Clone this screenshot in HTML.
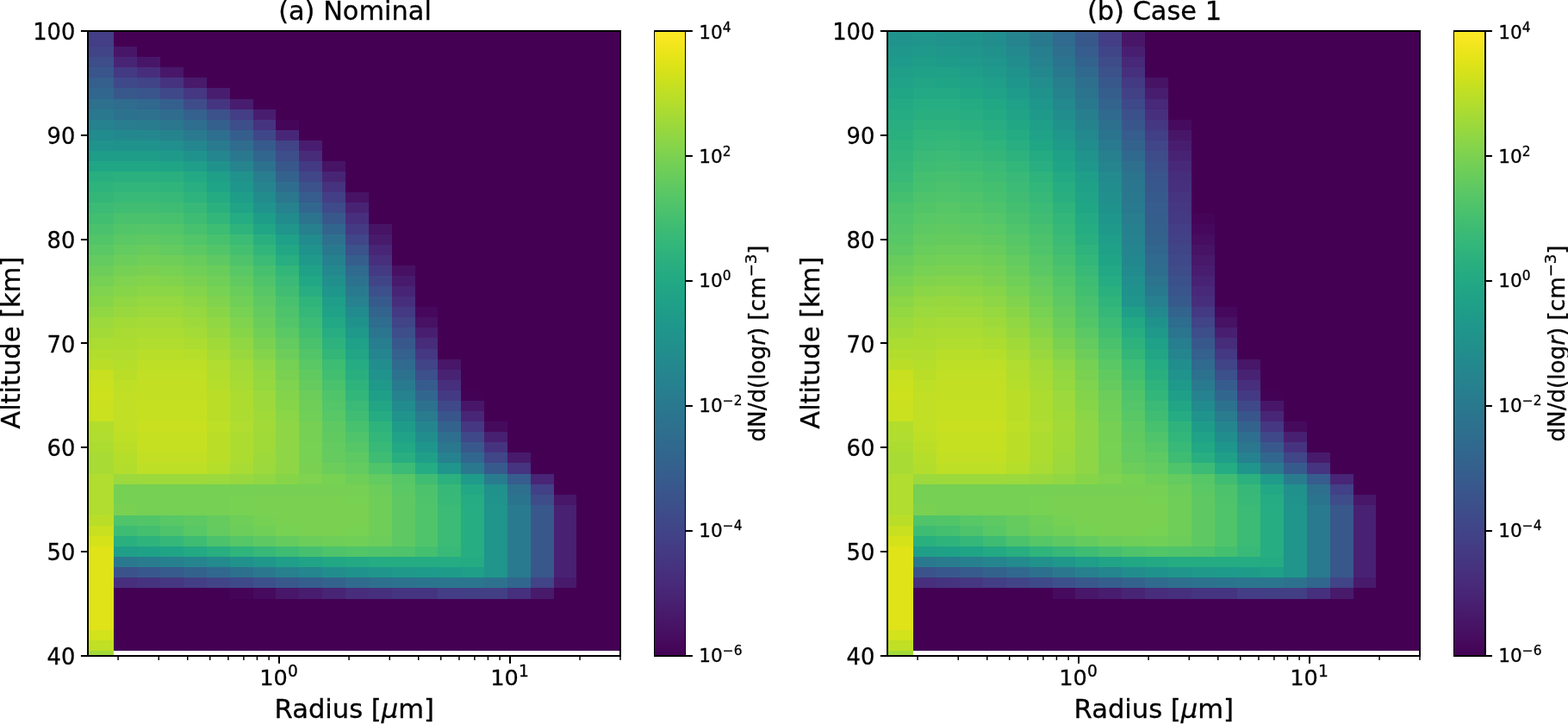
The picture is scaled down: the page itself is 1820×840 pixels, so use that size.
<!DOCTYPE html>
<html lang="en"><head><meta charset="utf-8"><title>Particle size distributions</title>
<style>html,body{margin:0;padding:0;background:#fff}body{width:1820px;height:840px;overflow:hidden}svg{display:block}text{font-family:"DejaVu Sans","Liberation Sans",sans-serif;fill:#000;stroke:#000;stroke-width:0.3px}</style></head><body>
<svg width="1820" height="840" viewBox="0 0 1820 840">
<rect width="1820" height="840" fill="#fff"/>
<g id="panel0">
<rect x="102.0" y="36.0" width="618.0" height="725.0" fill="#440154"/>
<g shape-rendering="crispEdges">
<rect x="102" y="36" width="30" height="18" fill="#433e85"/>
<rect x="102" y="54" width="30" height="12" fill="#414487"/>
<rect x="102" y="66" width="30" height="12" fill="#3d4e8a"/>
<rect x="102" y="78" width="30" height="12" fill="#39558c"/>
<rect x="102" y="90" width="30" height="12" fill="#355f8d"/>
<rect x="102" y="102" width="30" height="13" fill="#31678e"/>
<rect x="102" y="115" width="30" height="12" fill="#2d718e"/>
<rect x="102" y="127" width="30" height="12" fill="#2a788e"/>
<rect x="102" y="139" width="30" height="12" fill="#26828e"/>
<rect x="102" y="151" width="30" height="12" fill="#228b8d"/>
<rect x="102" y="163" width="30" height="12" fill="#20938c"/>
<rect x="102" y="175" width="30" height="12" fill="#1e9d89"/>
<rect x="102" y="187" width="30" height="12" fill="#21a685"/>
<rect x="102" y="199" width="30" height="12" fill="#29af7f"/>
<rect x="102" y="211" width="30" height="12" fill="#2eb37c"/>
<rect x="102" y="223" width="30" height="12" fill="#34b679"/>
<rect x="102" y="235" width="30" height="12" fill="#3bbb75"/>
<rect x="102" y="247" width="30" height="13" fill="#42be71"/>
<rect x="102" y="260" width="30" height="12" fill="#4ac16d"/>
<rect x="102" y="272" width="30" height="12" fill="#52c569"/>
<rect x="102" y="284" width="30" height="12" fill="#5ac864"/>
<rect x="102" y="296" width="30" height="12" fill="#63cb5f"/>
<rect x="102" y="308" width="30" height="12" fill="#6ccd5a"/>
<rect x="102" y="320" width="30" height="12" fill="#75d054"/>
<rect x="102" y="332" width="30" height="12" fill="#7fd34e"/>
<rect x="102" y="344" width="30" height="12" fill="#86d549"/>
<rect x="102" y="356" width="30" height="12" fill="#90d743"/>
<rect x="102" y="368" width="30" height="12" fill="#9bd93c"/>
<rect x="102" y="380" width="30" height="12" fill="#a2da37"/>
<rect x="102" y="392" width="30" height="13" fill="#aadc32"/>
<rect x="102" y="405" width="30" height="12" fill="#b2dd2d"/>
<rect x="102" y="417" width="30" height="12" fill="#bade28"/>
<rect x="102" y="429" width="30" height="12" fill="#c8e020"/>
<rect x="102" y="441" width="30" height="12" fill="#cae11f"/>
<rect x="102" y="453" width="30" height="12" fill="#cde11d"/>
<rect x="102" y="465" width="30" height="24" fill="#cae11f"/>
<rect x="102" y="489" width="30" height="12" fill="#b2dd2d"/>
<rect x="102" y="501" width="30" height="12" fill="#b0dd2f"/>
<rect x="102" y="513" width="30" height="12" fill="#addc30"/>
<rect x="102" y="525" width="30" height="25" fill="#a8db34"/>
<rect x="102" y="550" width="30" height="48" fill="#b0dd2f"/>
<rect x="102" y="598" width="30" height="12" fill="#bade28"/>
<rect x="102" y="610" width="30" height="12" fill="#c8e020"/>
<rect x="102" y="622" width="30" height="12" fill="#d5e21a"/>
<rect x="102" y="634" width="30" height="97" fill="#dfe318"/>
<rect x="102" y="731" width="30" height="12" fill="#d2e21b"/>
<rect x="102" y="743" width="30" height="12" fill="#c0df25"/>
<rect x="102" y="755" width="30" height="6" fill="#a2da37"/>
<rect x="132" y="54" width="27" height="12" fill="#481668"/>
<rect x="132" y="66" width="27" height="12" fill="#482475"/>
<rect x="132" y="78" width="27" height="12" fill="#443983"/>
<rect x="132" y="90" width="27" height="12" fill="#3f4889"/>
<rect x="132" y="102" width="27" height="13" fill="#38588c"/>
<rect x="132" y="115" width="27" height="12" fill="#2f6c8e"/>
<rect x="132" y="127" width="27" height="12" fill="#2c728e"/>
<rect x="132" y="139" width="27" height="12" fill="#287d8e"/>
<rect x="132" y="151" width="27" height="12" fill="#23888e"/>
<rect x="132" y="163" width="27" height="12" fill="#20928c"/>
<rect x="132" y="175" width="27" height="12" fill="#1e9d89"/>
<rect x="132" y="187" width="27" height="12" fill="#21a685"/>
<rect x="132" y="199" width="27" height="12" fill="#2ab07f"/>
<rect x="132" y="211" width="27" height="12" fill="#31b57b"/>
<rect x="132" y="223" width="27" height="12" fill="#38b977"/>
<rect x="132" y="235" width="27" height="12" fill="#40bd72"/>
<rect x="132" y="247" width="27" height="13" fill="#4ac16d"/>
<rect x="132" y="260" width="27" height="12" fill="#52c569"/>
<rect x="132" y="272" width="27" height="12" fill="#5ac864"/>
<rect x="132" y="284" width="27" height="12" fill="#63cb5f"/>
<rect x="132" y="296" width="27" height="12" fill="#6ccd5a"/>
<rect x="132" y="308" width="27" height="12" fill="#75d054"/>
<rect x="132" y="320" width="27" height="12" fill="#7fd34e"/>
<rect x="132" y="332" width="27" height="12" fill="#86d549"/>
<rect x="132" y="344" width="27" height="12" fill="#90d743"/>
<rect x="132" y="356" width="27" height="12" fill="#98d83e"/>
<rect x="132" y="368" width="27" height="12" fill="#a2da37"/>
<rect x="132" y="380" width="27" height="12" fill="#a8db34"/>
<rect x="132" y="392" width="27" height="13" fill="#addc30"/>
<rect x="132" y="405" width="27" height="12" fill="#b0dd2f"/>
<rect x="132" y="417" width="27" height="12" fill="#b5de2b"/>
<rect x="132" y="429" width="27" height="12" fill="#bade28"/>
<rect x="132" y="441" width="27" height="12" fill="#bddf26"/>
<rect x="132" y="453" width="27" height="48" fill="#c0df25"/>
<rect x="132" y="501" width="27" height="12" fill="#bddf26"/>
<rect x="132" y="513" width="27" height="12" fill="#bade28"/>
<rect x="132" y="525" width="27" height="12" fill="#b5de2b"/>
<rect x="132" y="537" width="27" height="13" fill="#b2dd2d"/>
<rect x="132" y="550" width="27" height="12" fill="#9bd93c"/>
<rect x="132" y="562" width="27" height="24" fill="#75d054"/>
<rect x="132" y="586" width="27" height="12" fill="#7ad151"/>
<rect x="132" y="598" width="27" height="12" fill="#50c46a"/>
<rect x="132" y="610" width="27" height="12" fill="#3fbc73"/>
<rect x="132" y="622" width="27" height="12" fill="#2ab07f"/>
<rect x="132" y="634" width="27" height="12" fill="#1f9f88"/>
<rect x="132" y="646" width="27" height="12" fill="#2a788e"/>
<rect x="132" y="658" width="27" height="12" fill="#3a538b"/>
<rect x="132" y="670" width="27" height="12" fill="#472f7d"/>
<rect x="132" y="755" width="27" height="6" fill="#ffffff"/>
<rect x="159" y="66" width="27" height="12" fill="#481668"/>
<rect x="159" y="78" width="27" height="12" fill="#472e7c"/>
<rect x="159" y="90" width="27" height="12" fill="#414487"/>
<rect x="159" y="102" width="27" height="13" fill="#39558c"/>
<rect x="159" y="115" width="27" height="12" fill="#31688e"/>
<rect x="159" y="127" width="27" height="12" fill="#2d718e"/>
<rect x="159" y="139" width="27" height="12" fill="#287c8e"/>
<rect x="159" y="151" width="27" height="12" fill="#24878e"/>
<rect x="159" y="163" width="27" height="12" fill="#20928c"/>
<rect x="159" y="175" width="27" height="12" fill="#1e9d89"/>
<rect x="159" y="187" width="27" height="12" fill="#21a685"/>
<rect x="159" y="199" width="27" height="12" fill="#2ab07f"/>
<rect x="159" y="211" width="27" height="12" fill="#31b57b"/>
<rect x="159" y="223" width="27" height="12" fill="#38b977"/>
<rect x="159" y="235" width="27" height="12" fill="#40bd72"/>
<rect x="159" y="247" width="27" height="13" fill="#4ac16d"/>
<rect x="159" y="260" width="27" height="12" fill="#54c568"/>
<rect x="159" y="272" width="27" height="12" fill="#5ec962"/>
<rect x="159" y="284" width="27" height="12" fill="#67cc5c"/>
<rect x="159" y="296" width="27" height="12" fill="#70cf57"/>
<rect x="159" y="308" width="27" height="12" fill="#7ad151"/>
<rect x="159" y="320" width="27" height="12" fill="#84d44b"/>
<rect x="159" y="332" width="27" height="12" fill="#8bd646"/>
<rect x="159" y="344" width="27" height="12" fill="#95d840"/>
<rect x="159" y="356" width="27" height="12" fill="#9dd93b"/>
<rect x="159" y="368" width="27" height="12" fill="#a5db36"/>
<rect x="159" y="380" width="27" height="12" fill="#aadc32"/>
<rect x="159" y="392" width="27" height="13" fill="#b0dd2f"/>
<rect x="159" y="405" width="27" height="12" fill="#b8de29"/>
<rect x="159" y="417" width="27" height="12" fill="#bddf26"/>
<rect x="159" y="429" width="27" height="12" fill="#c0df25"/>
<rect x="159" y="441" width="27" height="24" fill="#c2df23"/>
<rect x="159" y="465" width="27" height="24" fill="#c5e021"/>
<rect x="159" y="489" width="27" height="12" fill="#c8e020"/>
<rect x="159" y="501" width="27" height="24" fill="#c5e021"/>
<rect x="159" y="525" width="27" height="12" fill="#c2df23"/>
<rect x="159" y="537" width="27" height="13" fill="#bddf26"/>
<rect x="159" y="550" width="27" height="12" fill="#9dd93b"/>
<rect x="159" y="562" width="27" height="36" fill="#75d054"/>
<rect x="159" y="598" width="27" height="12" fill="#52c569"/>
<rect x="159" y="610" width="27" height="12" fill="#44bf70"/>
<rect x="159" y="622" width="27" height="12" fill="#2eb37c"/>
<rect x="159" y="634" width="27" height="12" fill="#1fa188"/>
<rect x="159" y="646" width="27" height="12" fill="#287c8e"/>
<rect x="159" y="658" width="27" height="12" fill="#38588c"/>
<rect x="159" y="670" width="27" height="12" fill="#46337f"/>
<rect x="159" y="755" width="27" height="6" fill="#ffffff"/>
<rect x="186" y="78" width="27" height="12" fill="#481769"/>
<rect x="186" y="90" width="27" height="12" fill="#46337f"/>
<rect x="186" y="102" width="27" height="13" fill="#3f4889"/>
<rect x="186" y="115" width="27" height="12" fill="#355f8d"/>
<rect x="186" y="127" width="27" height="12" fill="#2f6c8e"/>
<rect x="186" y="139" width="27" height="12" fill="#2a778e"/>
<rect x="186" y="151" width="27" height="12" fill="#25838e"/>
<rect x="186" y="163" width="27" height="12" fill="#218f8d"/>
<rect x="186" y="175" width="27" height="12" fill="#1f9a8a"/>
<rect x="186" y="187" width="27" height="12" fill="#20a486"/>
<rect x="186" y="199" width="27" height="12" fill="#29af7f"/>
<rect x="186" y="211" width="27" height="12" fill="#2fb47c"/>
<rect x="186" y="223" width="27" height="12" fill="#37b878"/>
<rect x="186" y="235" width="27" height="12" fill="#3fbc73"/>
<rect x="186" y="247" width="27" height="13" fill="#48c16e"/>
<rect x="186" y="260" width="27" height="12" fill="#52c569"/>
<rect x="186" y="272" width="27" height="12" fill="#5ac864"/>
<rect x="186" y="284" width="27" height="12" fill="#63cb5f"/>
<rect x="186" y="296" width="27" height="12" fill="#6ece58"/>
<rect x="186" y="308" width="27" height="12" fill="#77d153"/>
<rect x="186" y="320" width="27" height="12" fill="#81d34d"/>
<rect x="186" y="332" width="27" height="12" fill="#8bd646"/>
<rect x="186" y="344" width="27" height="12" fill="#95d840"/>
<rect x="186" y="356" width="27" height="12" fill="#9dd93b"/>
<rect x="186" y="368" width="27" height="12" fill="#a5db36"/>
<rect x="186" y="380" width="27" height="12" fill="#aadc32"/>
<rect x="186" y="392" width="27" height="13" fill="#b0dd2f"/>
<rect x="186" y="405" width="27" height="12" fill="#b8de29"/>
<rect x="186" y="417" width="27" height="12" fill="#bddf26"/>
<rect x="186" y="429" width="27" height="12" fill="#c0df25"/>
<rect x="186" y="441" width="27" height="24" fill="#c2df23"/>
<rect x="186" y="465" width="27" height="24" fill="#c5e021"/>
<rect x="186" y="489" width="27" height="12" fill="#c8e020"/>
<rect x="186" y="501" width="27" height="24" fill="#c5e021"/>
<rect x="186" y="525" width="27" height="12" fill="#c2df23"/>
<rect x="186" y="537" width="27" height="13" fill="#bddf26"/>
<rect x="186" y="550" width="27" height="12" fill="#9dd93b"/>
<rect x="186" y="562" width="27" height="36" fill="#75d054"/>
<rect x="186" y="598" width="27" height="12" fill="#58c765"/>
<rect x="186" y="610" width="27" height="12" fill="#4ec36b"/>
<rect x="186" y="622" width="27" height="12" fill="#35b779"/>
<rect x="186" y="634" width="27" height="12" fill="#20a486"/>
<rect x="186" y="646" width="27" height="12" fill="#27808e"/>
<rect x="186" y="658" width="27" height="12" fill="#375b8d"/>
<rect x="186" y="670" width="27" height="12" fill="#453781"/>
<rect x="186" y="755" width="27" height="6" fill="#ffffff"/>
<rect x="213" y="90" width="27" height="12" fill="#481a6c"/>
<rect x="213" y="102" width="27" height="13" fill="#453781"/>
<rect x="213" y="115" width="27" height="12" fill="#3e4c8a"/>
<rect x="213" y="127" width="27" height="12" fill="#34618d"/>
<rect x="213" y="139" width="27" height="12" fill="#2e6e8e"/>
<rect x="213" y="151" width="27" height="12" fill="#297a8e"/>
<rect x="213" y="163" width="27" height="12" fill="#24868e"/>
<rect x="213" y="175" width="27" height="12" fill="#20928c"/>
<rect x="213" y="187" width="27" height="12" fill="#1f9e89"/>
<rect x="213" y="199" width="27" height="12" fill="#23a983"/>
<rect x="213" y="211" width="27" height="12" fill="#28ae80"/>
<rect x="213" y="223" width="27" height="12" fill="#2eb37c"/>
<rect x="213" y="235" width="27" height="12" fill="#37b878"/>
<rect x="213" y="247" width="27" height="13" fill="#3fbc73"/>
<rect x="213" y="260" width="27" height="12" fill="#48c16e"/>
<rect x="213" y="272" width="27" height="12" fill="#52c569"/>
<rect x="213" y="284" width="27" height="12" fill="#5cc863"/>
<rect x="213" y="296" width="27" height="12" fill="#67cc5c"/>
<rect x="213" y="308" width="27" height="12" fill="#70cf57"/>
<rect x="213" y="320" width="27" height="12" fill="#7ad151"/>
<rect x="213" y="332" width="27" height="12" fill="#84d44b"/>
<rect x="213" y="344" width="27" height="12" fill="#8ed645"/>
<rect x="213" y="356" width="27" height="12" fill="#95d840"/>
<rect x="213" y="368" width="27" height="12" fill="#9dd93b"/>
<rect x="213" y="380" width="27" height="12" fill="#a5db36"/>
<rect x="213" y="392" width="27" height="13" fill="#addc30"/>
<rect x="213" y="405" width="27" height="12" fill="#b5de2b"/>
<rect x="213" y="417" width="27" height="12" fill="#bddf26"/>
<rect x="213" y="429" width="27" height="12" fill="#c0df25"/>
<rect x="213" y="441" width="27" height="24" fill="#c2df23"/>
<rect x="213" y="465" width="27" height="24" fill="#c5e021"/>
<rect x="213" y="489" width="27" height="12" fill="#c8e020"/>
<rect x="213" y="501" width="27" height="24" fill="#c5e021"/>
<rect x="213" y="525" width="27" height="12" fill="#c2df23"/>
<rect x="213" y="537" width="27" height="13" fill="#bddf26"/>
<rect x="213" y="550" width="27" height="12" fill="#9dd93b"/>
<rect x="213" y="562" width="27" height="36" fill="#75d054"/>
<rect x="213" y="598" width="27" height="12" fill="#5ec962"/>
<rect x="213" y="610" width="27" height="12" fill="#58c765"/>
<rect x="213" y="622" width="27" height="12" fill="#3fbc73"/>
<rect x="213" y="634" width="27" height="12" fill="#23a983"/>
<rect x="213" y="646" width="27" height="12" fill="#25848e"/>
<rect x="213" y="658" width="27" height="12" fill="#33628d"/>
<rect x="213" y="670" width="27" height="12" fill="#433e85"/>
<rect x="213" y="755" width="27" height="6" fill="#ffffff"/>
<rect x="240" y="102" width="27" height="13" fill="#481d6f"/>
<rect x="240" y="115" width="27" height="12" fill="#453581"/>
<rect x="240" y="127" width="27" height="12" fill="#3b528b"/>
<rect x="240" y="139" width="27" height="12" fill="#34608d"/>
<rect x="240" y="151" width="27" height="12" fill="#2e6e8e"/>
<rect x="240" y="163" width="27" height="12" fill="#297a8e"/>
<rect x="240" y="175" width="27" height="12" fill="#24868e"/>
<rect x="240" y="187" width="27" height="12" fill="#20928c"/>
<rect x="240" y="199" width="27" height="12" fill="#1f9f88"/>
<rect x="240" y="211" width="27" height="12" fill="#20a486"/>
<rect x="240" y="223" width="27" height="12" fill="#25ab82"/>
<rect x="240" y="235" width="27" height="12" fill="#2ab07f"/>
<rect x="240" y="247" width="27" height="13" fill="#32b67a"/>
<rect x="240" y="260" width="27" height="12" fill="#3dbc74"/>
<rect x="240" y="272" width="27" height="12" fill="#48c16e"/>
<rect x="240" y="284" width="27" height="12" fill="#52c569"/>
<rect x="240" y="296" width="27" height="12" fill="#5ec962"/>
<rect x="240" y="308" width="27" height="12" fill="#69cd5b"/>
<rect x="240" y="320" width="27" height="12" fill="#70cf57"/>
<rect x="240" y="332" width="27" height="12" fill="#77d153"/>
<rect x="240" y="344" width="27" height="12" fill="#81d34d"/>
<rect x="240" y="356" width="27" height="12" fill="#89d548"/>
<rect x="240" y="368" width="27" height="12" fill="#90d743"/>
<rect x="240" y="380" width="27" height="12" fill="#98d83e"/>
<rect x="240" y="392" width="27" height="13" fill="#a0da39"/>
<rect x="240" y="405" width="27" height="12" fill="#a8db34"/>
<rect x="240" y="417" width="27" height="12" fill="#b0dd2f"/>
<rect x="240" y="429" width="27" height="12" fill="#b2dd2d"/>
<rect x="240" y="441" width="27" height="12" fill="#b5de2b"/>
<rect x="240" y="453" width="27" height="36" fill="#bade28"/>
<rect x="240" y="489" width="27" height="12" fill="#bddf26"/>
<rect x="240" y="501" width="27" height="36" fill="#bade28"/>
<rect x="240" y="537" width="27" height="13" fill="#b5de2b"/>
<rect x="240" y="550" width="27" height="12" fill="#9bd93c"/>
<rect x="240" y="562" width="27" height="36" fill="#75d054"/>
<rect x="240" y="598" width="27" height="12" fill="#65cb5e"/>
<rect x="240" y="610" width="27" height="12" fill="#63cb5f"/>
<rect x="240" y="622" width="27" height="12" fill="#4cc26c"/>
<rect x="240" y="634" width="27" height="12" fill="#28ae80"/>
<rect x="240" y="646" width="27" height="12" fill="#238a8d"/>
<rect x="240" y="658" width="27" height="12" fill="#31688e"/>
<rect x="240" y="670" width="27" height="12" fill="#414487"/>
<rect x="240" y="755" width="27" height="6" fill="#ffffff"/>
<rect x="267" y="115" width="27" height="12" fill="#481c6e"/>
<rect x="267" y="127" width="27" height="12" fill="#433e85"/>
<rect x="267" y="139" width="27" height="12" fill="#3d4e8a"/>
<rect x="267" y="151" width="27" height="12" fill="#355e8d"/>
<rect x="267" y="163" width="27" height="12" fill="#2f6c8e"/>
<rect x="267" y="175" width="27" height="12" fill="#2a788e"/>
<rect x="267" y="187" width="27" height="12" fill="#25848e"/>
<rect x="267" y="199" width="27" height="12" fill="#21918c"/>
<rect x="267" y="211" width="27" height="12" fill="#1f968b"/>
<rect x="267" y="223" width="27" height="12" fill="#1e9d89"/>
<rect x="267" y="235" width="27" height="12" fill="#20a386"/>
<rect x="267" y="247" width="27" height="13" fill="#25ac82"/>
<rect x="267" y="260" width="27" height="12" fill="#2eb37c"/>
<rect x="267" y="272" width="27" height="12" fill="#3bbb75"/>
<rect x="267" y="284" width="27" height="12" fill="#44bf70"/>
<rect x="267" y="296" width="27" height="12" fill="#4ec36b"/>
<rect x="267" y="308" width="27" height="12" fill="#58c765"/>
<rect x="267" y="320" width="27" height="12" fill="#60ca60"/>
<rect x="267" y="332" width="27" height="12" fill="#69cd5b"/>
<rect x="267" y="344" width="27" height="12" fill="#70cf57"/>
<rect x="267" y="356" width="27" height="12" fill="#77d153"/>
<rect x="267" y="368" width="27" height="12" fill="#7fd34e"/>
<rect x="267" y="380" width="27" height="12" fill="#86d549"/>
<rect x="267" y="392" width="27" height="13" fill="#90d743"/>
<rect x="267" y="405" width="27" height="12" fill="#98d83e"/>
<rect x="267" y="417" width="27" height="12" fill="#a2da37"/>
<rect x="267" y="429" width="27" height="12" fill="#a5db36"/>
<rect x="267" y="441" width="27" height="12" fill="#a8db34"/>
<rect x="267" y="453" width="27" height="36" fill="#addc30"/>
<rect x="267" y="489" width="27" height="12" fill="#b0dd2f"/>
<rect x="267" y="501" width="27" height="36" fill="#addc30"/>
<rect x="267" y="537" width="27" height="13" fill="#a8db34"/>
<rect x="267" y="550" width="27" height="12" fill="#98d83e"/>
<rect x="267" y="562" width="27" height="12" fill="#75d054"/>
<rect x="267" y="574" width="27" height="24" fill="#77d153"/>
<rect x="267" y="598" width="27" height="12" fill="#6ece58"/>
<rect x="267" y="610" width="27" height="12" fill="#6ccd5a"/>
<rect x="267" y="622" width="27" height="12" fill="#56c667"/>
<rect x="267" y="634" width="27" height="12" fill="#2fb47c"/>
<rect x="267" y="646" width="27" height="12" fill="#21918c"/>
<rect x="267" y="658" width="27" height="12" fill="#2d708e"/>
<rect x="267" y="670" width="27" height="12" fill="#3e4989"/>
<rect x="267" y="682" width="27" height="13" fill="#450457"/>
<rect x="267" y="755" width="27" height="6" fill="#ffffff"/>
<rect x="294" y="127" width="26" height="12" fill="#481d6f"/>
<rect x="294" y="139" width="26" height="12" fill="#46337f"/>
<rect x="294" y="151" width="26" height="12" fill="#3f4788"/>
<rect x="294" y="163" width="26" height="12" fill="#375a8c"/>
<rect x="294" y="175" width="26" height="12" fill="#31668e"/>
<rect x="294" y="187" width="26" height="12" fill="#2c718e"/>
<rect x="294" y="199" width="26" height="12" fill="#287d8e"/>
<rect x="294" y="211" width="26" height="12" fill="#25848e"/>
<rect x="294" y="223" width="26" height="12" fill="#228c8d"/>
<rect x="294" y="235" width="26" height="12" fill="#20938c"/>
<rect x="294" y="247" width="26" height="13" fill="#1e9d89"/>
<rect x="294" y="260" width="26" height="12" fill="#21a685"/>
<rect x="294" y="272" width="26" height="12" fill="#29af7f"/>
<rect x="294" y="284" width="26" height="12" fill="#31b57b"/>
<rect x="294" y="296" width="26" height="12" fill="#3bbb75"/>
<rect x="294" y="308" width="26" height="12" fill="#46c06f"/>
<rect x="294" y="320" width="26" height="12" fill="#4ec36b"/>
<rect x="294" y="332" width="26" height="12" fill="#56c667"/>
<rect x="294" y="344" width="26" height="12" fill="#5ec962"/>
<rect x="294" y="356" width="26" height="12" fill="#63cb5f"/>
<rect x="294" y="368" width="26" height="12" fill="#69cd5b"/>
<rect x="294" y="380" width="26" height="12" fill="#70cf57"/>
<rect x="294" y="392" width="26" height="13" fill="#7ad151"/>
<rect x="294" y="405" width="26" height="12" fill="#84d44b"/>
<rect x="294" y="417" width="26" height="12" fill="#8ed645"/>
<rect x="294" y="429" width="26" height="12" fill="#93d741"/>
<rect x="294" y="441" width="26" height="12" fill="#95d840"/>
<rect x="294" y="453" width="26" height="12" fill="#9bd93c"/>
<rect x="294" y="465" width="26" height="12" fill="#9dd93b"/>
<rect x="294" y="477" width="26" height="12" fill="#a0da39"/>
<rect x="294" y="489" width="26" height="12" fill="#a2da37"/>
<rect x="294" y="501" width="26" height="24" fill="#a0da39"/>
<rect x="294" y="525" width="26" height="12" fill="#9dd93b"/>
<rect x="294" y="537" width="26" height="13" fill="#9bd93c"/>
<rect x="294" y="550" width="26" height="12" fill="#90d743"/>
<rect x="294" y="562" width="26" height="12" fill="#75d054"/>
<rect x="294" y="574" width="26" height="24" fill="#7ad151"/>
<rect x="294" y="598" width="26" height="12" fill="#75d054"/>
<rect x="294" y="610" width="26" height="12" fill="#70cf57"/>
<rect x="294" y="622" width="26" height="12" fill="#5ec962"/>
<rect x="294" y="634" width="26" height="12" fill="#37b878"/>
<rect x="294" y="646" width="26" height="12" fill="#1f978b"/>
<rect x="294" y="658" width="26" height="12" fill="#2a788e"/>
<rect x="294" y="670" width="26" height="12" fill="#3c508b"/>
<rect x="294" y="682" width="26" height="13" fill="#460b5e"/>
<rect x="294" y="755" width="26" height="6" fill="#ffffff"/>
<rect x="320" y="139" width="27" height="12" fill="#450559"/>
<rect x="320" y="151" width="27" height="12" fill="#482677"/>
<rect x="320" y="163" width="27" height="12" fill="#414487"/>
<rect x="320" y="175" width="27" height="12" fill="#3d4e8a"/>
<rect x="320" y="187" width="27" height="12" fill="#38588c"/>
<rect x="320" y="199" width="27" height="12" fill="#33628d"/>
<rect x="320" y="211" width="27" height="12" fill="#2e6d8e"/>
<rect x="320" y="223" width="27" height="12" fill="#2a778e"/>
<rect x="320" y="235" width="27" height="12" fill="#26828e"/>
<rect x="320" y="247" width="27" height="13" fill="#228c8d"/>
<rect x="320" y="260" width="27" height="12" fill="#1f958b"/>
<rect x="320" y="272" width="27" height="12" fill="#1fa088"/>
<rect x="320" y="284" width="27" height="12" fill="#22a785"/>
<rect x="320" y="296" width="27" height="12" fill="#28ae80"/>
<rect x="320" y="308" width="27" height="12" fill="#32b67a"/>
<rect x="320" y="320" width="27" height="12" fill="#3aba76"/>
<rect x="320" y="332" width="27" height="12" fill="#40bd72"/>
<rect x="320" y="344" width="27" height="12" fill="#48c16e"/>
<rect x="320" y="356" width="27" height="12" fill="#4ec36b"/>
<rect x="320" y="368" width="27" height="12" fill="#52c569"/>
<rect x="320" y="380" width="27" height="12" fill="#5ac864"/>
<rect x="320" y="392" width="27" height="13" fill="#63cb5f"/>
<rect x="320" y="405" width="27" height="12" fill="#6ccd5a"/>
<rect x="320" y="417" width="27" height="12" fill="#75d054"/>
<rect x="320" y="429" width="27" height="12" fill="#7ad151"/>
<rect x="320" y="441" width="27" height="12" fill="#7fd34e"/>
<rect x="320" y="453" width="27" height="12" fill="#84d44b"/>
<rect x="320" y="465" width="27" height="12" fill="#86d549"/>
<rect x="320" y="477" width="27" height="12" fill="#8bd646"/>
<rect x="320" y="489" width="27" height="61" fill="#8ed645"/>
<rect x="320" y="550" width="27" height="12" fill="#86d549"/>
<rect x="320" y="562" width="27" height="12" fill="#75d054"/>
<rect x="320" y="574" width="27" height="36" fill="#7ad151"/>
<rect x="320" y="610" width="27" height="12" fill="#77d153"/>
<rect x="320" y="622" width="27" height="12" fill="#65cb5e"/>
<rect x="320" y="634" width="27" height="12" fill="#3fbc73"/>
<rect x="320" y="646" width="27" height="12" fill="#1f9e89"/>
<rect x="320" y="658" width="27" height="12" fill="#27808e"/>
<rect x="320" y="670" width="27" height="12" fill="#38588c"/>
<rect x="320" y="682" width="27" height="13" fill="#481769"/>
<rect x="320" y="755" width="27" height="6" fill="#ffffff"/>
<rect x="347" y="163" width="27" height="12" fill="#481d6f"/>
<rect x="347" y="175" width="27" height="12" fill="#472c7a"/>
<rect x="347" y="187" width="27" height="12" fill="#443983"/>
<rect x="347" y="199" width="27" height="12" fill="#404688"/>
<rect x="347" y="211" width="27" height="12" fill="#3b528b"/>
<rect x="347" y="223" width="27" height="12" fill="#365d8d"/>
<rect x="347" y="235" width="27" height="12" fill="#31678e"/>
<rect x="347" y="247" width="27" height="13" fill="#2c738e"/>
<rect x="347" y="260" width="27" height="12" fill="#27808e"/>
<rect x="347" y="272" width="27" height="12" fill="#228b8d"/>
<rect x="347" y="284" width="27" height="12" fill="#20928c"/>
<rect x="347" y="296" width="27" height="12" fill="#1f9a8a"/>
<rect x="347" y="308" width="27" height="12" fill="#1fa188"/>
<rect x="347" y="320" width="27" height="12" fill="#22a785"/>
<rect x="347" y="332" width="27" height="12" fill="#27ad81"/>
<rect x="347" y="344" width="27" height="12" fill="#2fb47c"/>
<rect x="347" y="356" width="27" height="12" fill="#35b779"/>
<rect x="347" y="368" width="27" height="12" fill="#3bbb75"/>
<rect x="347" y="380" width="27" height="12" fill="#42be71"/>
<rect x="347" y="392" width="27" height="13" fill="#4ac16d"/>
<rect x="347" y="405" width="27" height="12" fill="#52c569"/>
<rect x="347" y="417" width="27" height="12" fill="#5ac864"/>
<rect x="347" y="429" width="27" height="12" fill="#60ca60"/>
<rect x="347" y="441" width="27" height="12" fill="#65cb5e"/>
<rect x="347" y="453" width="27" height="12" fill="#6ccd5a"/>
<rect x="347" y="465" width="27" height="12" fill="#6ece58"/>
<rect x="347" y="477" width="27" height="12" fill="#70cf57"/>
<rect x="347" y="489" width="27" height="24" fill="#75d054"/>
<rect x="347" y="513" width="27" height="24" fill="#77d153"/>
<rect x="347" y="537" width="27" height="13" fill="#7ad151"/>
<rect x="347" y="550" width="27" height="12" fill="#7fd34e"/>
<rect x="347" y="562" width="27" height="12" fill="#75d054"/>
<rect x="347" y="574" width="27" height="48" fill="#7ad151"/>
<rect x="347" y="622" width="27" height="12" fill="#6ccd5a"/>
<rect x="347" y="634" width="27" height="12" fill="#46c06f"/>
<rect x="347" y="646" width="27" height="12" fill="#20a386"/>
<rect x="347" y="658" width="27" height="12" fill="#24868e"/>
<rect x="347" y="670" width="27" height="12" fill="#355e8d"/>
<rect x="347" y="682" width="27" height="13" fill="#481d6f"/>
<rect x="347" y="755" width="27" height="6" fill="#ffffff"/>
<rect x="374" y="187" width="27" height="12" fill="#471365"/>
<rect x="374" y="199" width="27" height="12" fill="#482475"/>
<rect x="374" y="211" width="27" height="12" fill="#46327e"/>
<rect x="374" y="223" width="27" height="12" fill="#433e85"/>
<rect x="374" y="235" width="27" height="12" fill="#3e4a89"/>
<rect x="374" y="247" width="27" height="13" fill="#38588c"/>
<rect x="374" y="260" width="27" height="12" fill="#32658e"/>
<rect x="374" y="272" width="27" height="12" fill="#2d718e"/>
<rect x="374" y="284" width="27" height="12" fill="#29798e"/>
<rect x="374" y="296" width="27" height="12" fill="#26818e"/>
<rect x="374" y="308" width="27" height="12" fill="#23898e"/>
<rect x="374" y="320" width="27" height="12" fill="#21908d"/>
<rect x="374" y="332" width="27" height="12" fill="#1f968b"/>
<rect x="374" y="344" width="27" height="12" fill="#1f9e89"/>
<rect x="374" y="356" width="27" height="12" fill="#1fa287"/>
<rect x="374" y="368" width="27" height="12" fill="#22a884"/>
<rect x="374" y="380" width="27" height="12" fill="#27ad81"/>
<rect x="374" y="392" width="27" height="13" fill="#2db27d"/>
<rect x="374" y="405" width="27" height="12" fill="#34b679"/>
<rect x="374" y="417" width="27" height="12" fill="#3dbc74"/>
<rect x="374" y="429" width="27" height="12" fill="#42be71"/>
<rect x="374" y="441" width="27" height="12" fill="#4ac16d"/>
<rect x="374" y="453" width="27" height="12" fill="#50c46a"/>
<rect x="374" y="465" width="27" height="12" fill="#54c568"/>
<rect x="374" y="477" width="27" height="12" fill="#58c765"/>
<rect x="374" y="489" width="27" height="12" fill="#5ec962"/>
<rect x="374" y="501" width="27" height="12" fill="#60ca60"/>
<rect x="374" y="513" width="27" height="12" fill="#63cb5f"/>
<rect x="374" y="525" width="27" height="12" fill="#65cb5e"/>
<rect x="374" y="537" width="27" height="13" fill="#6ccd5a"/>
<rect x="374" y="550" width="27" height="12" fill="#77d153"/>
<rect x="374" y="562" width="27" height="12" fill="#75d054"/>
<rect x="374" y="574" width="27" height="48" fill="#7ad151"/>
<rect x="374" y="622" width="27" height="12" fill="#6ece58"/>
<rect x="374" y="634" width="27" height="12" fill="#4ec36b"/>
<rect x="374" y="646" width="27" height="12" fill="#22a785"/>
<rect x="374" y="658" width="27" height="12" fill="#228d8d"/>
<rect x="374" y="670" width="27" height="12" fill="#33638d"/>
<rect x="374" y="682" width="27" height="13" fill="#482475"/>
<rect x="374" y="755" width="27" height="6" fill="#ffffff"/>
<rect x="401" y="223" width="27" height="12" fill="#471365"/>
<rect x="401" y="235" width="27" height="12" fill="#482374"/>
<rect x="401" y="247" width="27" height="13" fill="#472f7d"/>
<rect x="401" y="260" width="27" height="12" fill="#443a83"/>
<rect x="401" y="272" width="27" height="12" fill="#404688"/>
<rect x="401" y="284" width="27" height="12" fill="#3b528b"/>
<rect x="401" y="296" width="27" height="12" fill="#355e8d"/>
<rect x="401" y="308" width="27" height="12" fill="#306a8e"/>
<rect x="401" y="320" width="27" height="12" fill="#2c728e"/>
<rect x="401" y="332" width="27" height="12" fill="#297a8e"/>
<rect x="401" y="344" width="27" height="12" fill="#26828e"/>
<rect x="401" y="356" width="27" height="12" fill="#228b8d"/>
<rect x="401" y="368" width="27" height="12" fill="#20928c"/>
<rect x="401" y="380" width="27" height="12" fill="#1f998a"/>
<rect x="401" y="392" width="27" height="13" fill="#1fa088"/>
<rect x="401" y="405" width="27" height="12" fill="#21a585"/>
<rect x="401" y="417" width="27" height="12" fill="#25ac82"/>
<rect x="401" y="429" width="27" height="12" fill="#29af7f"/>
<rect x="401" y="441" width="27" height="12" fill="#2eb37c"/>
<rect x="401" y="453" width="27" height="12" fill="#32b67a"/>
<rect x="401" y="465" width="27" height="12" fill="#3aba76"/>
<rect x="401" y="477" width="27" height="12" fill="#40bd72"/>
<rect x="401" y="489" width="27" height="12" fill="#48c16e"/>
<rect x="401" y="501" width="27" height="12" fill="#50c46a"/>
<rect x="401" y="513" width="27" height="12" fill="#56c667"/>
<rect x="401" y="525" width="27" height="12" fill="#5ec962"/>
<rect x="401" y="537" width="27" height="13" fill="#63cb5f"/>
<rect x="401" y="550" width="27" height="12" fill="#6ece58"/>
<rect x="401" y="562" width="27" height="12" fill="#75d054"/>
<rect x="401" y="574" width="27" height="12" fill="#77d153"/>
<rect x="401" y="586" width="27" height="24" fill="#7ad151"/>
<rect x="401" y="610" width="27" height="12" fill="#77d153"/>
<rect x="401" y="622" width="27" height="12" fill="#70cf57"/>
<rect x="401" y="634" width="27" height="12" fill="#52c569"/>
<rect x="401" y="646" width="27" height="12" fill="#23a983"/>
<rect x="401" y="658" width="27" height="12" fill="#20928c"/>
<rect x="401" y="670" width="27" height="12" fill="#306a8e"/>
<rect x="401" y="682" width="27" height="13" fill="#472d7b"/>
<rect x="401" y="755" width="27" height="6" fill="#ffffff"/>
<rect x="428" y="260" width="27" height="12" fill="#471365"/>
<rect x="428" y="272" width="27" height="12" fill="#481a6c"/>
<rect x="428" y="284" width="27" height="12" fill="#482576"/>
<rect x="428" y="296" width="27" height="12" fill="#472f7d"/>
<rect x="428" y="308" width="27" height="12" fill="#443a83"/>
<rect x="428" y="320" width="27" height="12" fill="#404588"/>
<rect x="428" y="332" width="27" height="12" fill="#3c508b"/>
<rect x="428" y="344" width="27" height="12" fill="#375a8c"/>
<rect x="428" y="356" width="27" height="12" fill="#32648e"/>
<rect x="428" y="368" width="27" height="12" fill="#2e6d8e"/>
<rect x="428" y="380" width="27" height="12" fill="#2b758e"/>
<rect x="428" y="392" width="27" height="13" fill="#277e8e"/>
<rect x="428" y="405" width="27" height="12" fill="#25858e"/>
<rect x="428" y="417" width="27" height="12" fill="#218e8d"/>
<rect x="428" y="429" width="27" height="12" fill="#20938c"/>
<rect x="428" y="441" width="27" height="12" fill="#1f998a"/>
<rect x="428" y="453" width="27" height="12" fill="#1f9f88"/>
<rect x="428" y="465" width="27" height="12" fill="#21a585"/>
<rect x="428" y="477" width="27" height="12" fill="#25ac82"/>
<rect x="428" y="489" width="27" height="12" fill="#2eb37c"/>
<rect x="428" y="501" width="27" height="12" fill="#32b67a"/>
<rect x="428" y="513" width="27" height="12" fill="#38b977"/>
<rect x="428" y="525" width="27" height="12" fill="#3fbc73"/>
<rect x="428" y="537" width="27" height="13" fill="#50c46a"/>
<rect x="428" y="550" width="27" height="12" fill="#63cb5f"/>
<rect x="428" y="562" width="27" height="12" fill="#6ccd5a"/>
<rect x="428" y="574" width="27" height="48" fill="#6ece58"/>
<rect x="428" y="622" width="27" height="12" fill="#6ccd5a"/>
<rect x="428" y="634" width="27" height="12" fill="#50c46a"/>
<rect x="428" y="646" width="27" height="12" fill="#25ac82"/>
<rect x="428" y="658" width="27" height="12" fill="#1f968b"/>
<rect x="428" y="670" width="27" height="12" fill="#2e6f8e"/>
<rect x="428" y="682" width="27" height="13" fill="#46307e"/>
<rect x="428" y="755" width="27" height="6" fill="#ffffff"/>
<rect x="455" y="308" width="27" height="12" fill="#471063"/>
<rect x="455" y="320" width="27" height="12" fill="#481a6c"/>
<rect x="455" y="332" width="27" height="12" fill="#482475"/>
<rect x="455" y="344" width="27" height="12" fill="#472e7c"/>
<rect x="455" y="356" width="27" height="12" fill="#443983"/>
<rect x="455" y="368" width="27" height="12" fill="#414487"/>
<rect x="455" y="380" width="27" height="12" fill="#3d4e8a"/>
<rect x="455" y="392" width="27" height="13" fill="#38588c"/>
<rect x="455" y="405" width="27" height="12" fill="#34618d"/>
<rect x="455" y="417" width="27" height="12" fill="#306a8e"/>
<rect x="455" y="429" width="27" height="12" fill="#2c718e"/>
<rect x="455" y="441" width="27" height="12" fill="#297a8e"/>
<rect x="455" y="453" width="27" height="12" fill="#26828e"/>
<rect x="455" y="465" width="27" height="12" fill="#228b8d"/>
<rect x="455" y="477" width="27" height="12" fill="#20938c"/>
<rect x="455" y="489" width="27" height="12" fill="#1e9c89"/>
<rect x="455" y="501" width="27" height="12" fill="#1fa287"/>
<rect x="455" y="513" width="27" height="12" fill="#22a884"/>
<rect x="455" y="525" width="27" height="12" fill="#28ae80"/>
<rect x="455" y="537" width="27" height="13" fill="#3bbb75"/>
<rect x="455" y="550" width="27" height="12" fill="#56c667"/>
<rect x="455" y="562" width="27" height="12" fill="#5ac864"/>
<rect x="455" y="574" width="27" height="60" fill="#5ec962"/>
<rect x="455" y="634" width="27" height="12" fill="#4ec36b"/>
<rect x="455" y="646" width="27" height="12" fill="#25ac82"/>
<rect x="455" y="658" width="27" height="12" fill="#1f9a8a"/>
<rect x="455" y="670" width="27" height="12" fill="#2c728e"/>
<rect x="455" y="682" width="27" height="13" fill="#453581"/>
<rect x="455" y="755" width="27" height="6" fill="#ffffff"/>
<rect x="482" y="356" width="26" height="12" fill="#46085c"/>
<rect x="482" y="368" width="26" height="12" fill="#471164"/>
<rect x="482" y="380" width="26" height="12" fill="#481f70"/>
<rect x="482" y="392" width="26" height="13" fill="#472c7a"/>
<rect x="482" y="405" width="26" height="12" fill="#453882"/>
<rect x="482" y="417" width="26" height="12" fill="#414487"/>
<rect x="482" y="429" width="26" height="12" fill="#3c508b"/>
<rect x="482" y="441" width="26" height="12" fill="#365c8d"/>
<rect x="482" y="453" width="26" height="12" fill="#31678e"/>
<rect x="482" y="465" width="26" height="12" fill="#2c718e"/>
<rect x="482" y="477" width="26" height="12" fill="#297b8e"/>
<rect x="482" y="489" width="26" height="12" fill="#25858e"/>
<rect x="482" y="501" width="26" height="12" fill="#218e8d"/>
<rect x="482" y="513" width="26" height="12" fill="#1f968b"/>
<rect x="482" y="525" width="26" height="12" fill="#1f9f88"/>
<rect x="482" y="537" width="26" height="13" fill="#25ac82"/>
<rect x="482" y="550" width="26" height="12" fill="#40bd72"/>
<rect x="482" y="562" width="26" height="12" fill="#4cc26c"/>
<rect x="482" y="574" width="26" height="12" fill="#4ec36b"/>
<rect x="482" y="586" width="26" height="48" fill="#50c46a"/>
<rect x="482" y="634" width="26" height="12" fill="#44bf70"/>
<rect x="482" y="646" width="26" height="12" fill="#25ac82"/>
<rect x="482" y="658" width="26" height="12" fill="#1e9b8a"/>
<rect x="482" y="670" width="26" height="12" fill="#2b748e"/>
<rect x="482" y="682" width="26" height="13" fill="#453581"/>
<rect x="482" y="755" width="26" height="6" fill="#ffffff"/>
<rect x="508" y="417" width="27" height="12" fill="#481769"/>
<rect x="508" y="429" width="27" height="12" fill="#482374"/>
<rect x="508" y="441" width="27" height="12" fill="#472f7d"/>
<rect x="508" y="453" width="27" height="12" fill="#443a83"/>
<rect x="508" y="465" width="27" height="12" fill="#3f4889"/>
<rect x="508" y="477" width="27" height="12" fill="#39568c"/>
<rect x="508" y="489" width="27" height="12" fill="#33638d"/>
<rect x="508" y="501" width="27" height="12" fill="#2e6e8e"/>
<rect x="508" y="513" width="27" height="12" fill="#2a778e"/>
<rect x="508" y="525" width="27" height="12" fill="#26828e"/>
<rect x="508" y="537" width="27" height="13" fill="#1f958b"/>
<rect x="508" y="550" width="27" height="12" fill="#2cb17e"/>
<rect x="508" y="562" width="27" height="12" fill="#37b878"/>
<rect x="508" y="574" width="27" height="12" fill="#38b977"/>
<rect x="508" y="586" width="27" height="48" fill="#3bbb75"/>
<rect x="508" y="634" width="27" height="12" fill="#38b977"/>
<rect x="508" y="646" width="27" height="12" fill="#25ac82"/>
<rect x="508" y="658" width="27" height="12" fill="#1e9c89"/>
<rect x="508" y="670" width="27" height="12" fill="#2b758e"/>
<rect x="508" y="682" width="27" height="13" fill="#433e85"/>
<rect x="508" y="755" width="27" height="6" fill="#ffffff"/>
<rect x="535" y="453" width="27" height="12" fill="#440256"/>
<rect x="535" y="465" width="27" height="12" fill="#481668"/>
<rect x="535" y="477" width="27" height="12" fill="#482677"/>
<rect x="535" y="489" width="27" height="12" fill="#453781"/>
<rect x="535" y="501" width="27" height="12" fill="#3f4889"/>
<rect x="535" y="513" width="27" height="12" fill="#38588c"/>
<rect x="535" y="525" width="27" height="12" fill="#31678e"/>
<rect x="535" y="537" width="27" height="13" fill="#2a788e"/>
<rect x="535" y="550" width="27" height="12" fill="#1e9c89"/>
<rect x="535" y="562" width="27" height="12" fill="#22a884"/>
<rect x="535" y="574" width="27" height="12" fill="#25ac82"/>
<rect x="535" y="586" width="27" height="60" fill="#26ad81"/>
<rect x="535" y="646" width="27" height="12" fill="#25ab82"/>
<rect x="535" y="658" width="27" height="12" fill="#1f9f88"/>
<rect x="535" y="670" width="27" height="12" fill="#2b758e"/>
<rect x="535" y="682" width="27" height="13" fill="#423f85"/>
<rect x="535" y="755" width="27" height="6" fill="#ffffff"/>
<rect x="562" y="489" width="27" height="12" fill="#460a5d"/>
<rect x="562" y="501" width="27" height="12" fill="#482071"/>
<rect x="562" y="513" width="27" height="12" fill="#46337f"/>
<rect x="562" y="525" width="27" height="12" fill="#404688"/>
<rect x="562" y="537" width="27" height="13" fill="#375a8c"/>
<rect x="562" y="550" width="27" height="12" fill="#287c8e"/>
<rect x="562" y="562" width="27" height="12" fill="#21918c"/>
<rect x="562" y="574" width="27" height="12" fill="#20938c"/>
<rect x="562" y="586" width="27" height="84" fill="#1f958b"/>
<rect x="562" y="670" width="27" height="12" fill="#2d718e"/>
<rect x="562" y="682" width="27" height="13" fill="#423f85"/>
<rect x="562" y="755" width="27" height="6" fill="#ffffff"/>
<rect x="589" y="525" width="27" height="12" fill="#481a6c"/>
<rect x="589" y="537" width="27" height="13" fill="#463480"/>
<rect x="589" y="550" width="27" height="12" fill="#365d8d"/>
<rect x="589" y="562" width="27" height="12" fill="#2e6f8e"/>
<rect x="589" y="574" width="27" height="12" fill="#2b748e"/>
<rect x="589" y="586" width="27" height="84" fill="#297a8e"/>
<rect x="589" y="670" width="27" height="12" fill="#31668e"/>
<rect x="589" y="682" width="27" height="13" fill="#46307e"/>
<rect x="589" y="755" width="27" height="6" fill="#ffffff"/>
<rect x="616" y="550" width="27" height="12" fill="#482576"/>
<rect x="616" y="562" width="27" height="12" fill="#424086"/>
<rect x="616" y="574" width="27" height="12" fill="#3e4c8a"/>
<rect x="616" y="586" width="27" height="84" fill="#38588c"/>
<rect x="616" y="670" width="27" height="12" fill="#414487"/>
<rect x="616" y="682" width="27" height="13" fill="#481a6c"/>
<rect x="616" y="755" width="27" height="6" fill="#ffffff"/>
<rect x="643" y="574" width="26" height="12" fill="#481769"/>
<rect x="643" y="586" width="26" height="84" fill="#482173"/>
<rect x="643" y="670" width="26" height="12" fill="#481a6c"/>
<rect x="643" y="755" width="26" height="6" fill="#ffffff"/>
<rect x="669" y="755" width="27" height="6" fill="#ffffff"/>
<rect x="696" y="755" width="24" height="6" fill="#ffffff"/>
</g>
<rect x="101.00" y="35.00" width="2.00" height="727.00" fill="#000"/>
<rect x="719.00" y="35.00" width="2.00" height="727.00" fill="#000"/>
<rect x="101.00" y="35.00" width="620.00" height="2.00" fill="#000"/>
<rect x="101.00" y="760.00" width="620.00" height="2.00" fill="#000"/>
<rect x="93.90" y="760.00" width="7.20" height="2.00" fill="#000"/>
<text x="87.30" y="771.00" font-size="25.7" text-anchor="end">40</text>
<rect x="93.90" y="639.00" width="7.20" height="2.00" fill="#000"/>
<text x="87.30" y="650.17" font-size="25.7" text-anchor="end">50</text>
<rect x="93.90" y="518.00" width="7.20" height="2.00" fill="#000"/>
<text x="87.30" y="529.33" font-size="25.7" text-anchor="end">60</text>
<rect x="93.90" y="397.00" width="7.20" height="2.00" fill="#000"/>
<text x="87.30" y="408.50" font-size="25.7" text-anchor="end">70</text>
<rect x="93.90" y="277.00" width="7.20" height="2.00" fill="#000"/>
<text x="87.30" y="287.67" font-size="25.7" text-anchor="end">80</text>
<rect x="93.90" y="156.00" width="7.20" height="2.00" fill="#000"/>
<text x="87.30" y="166.83" font-size="25.7" text-anchor="end">90</text>
<rect x="93.90" y="35.00" width="7.20" height="2.00" fill="#000"/>
<text x="87.30" y="46.00" font-size="25.7" text-anchor="end">100</text>
<rect x="323.00" y="762.00" width="2.00" height="7.80" fill="#000"/>
<text x="301.30" y="794.90" font-size="25.6">10<tspan dy="-9.5" font-size="18.6">0</tspan></text>
<rect x="591.00" y="762.00" width="2.00" height="7.80" fill="#000"/>
<text x="569.30" y="794.90" font-size="25.6">10<tspan dy="-9.5" font-size="18.6">1</tspan></text>
<rect x="136.33" y="762.00" width="1.50" height="3.90" fill="#000"/>
<rect x="183.52" y="762.00" width="1.50" height="3.90" fill="#000"/>
<rect x="217.00" y="762.00" width="1.50" height="3.90" fill="#000"/>
<rect x="242.97" y="762.00" width="1.50" height="3.90" fill="#000"/>
<rect x="264.19" y="762.00" width="1.50" height="3.90" fill="#000"/>
<rect x="282.14" y="762.00" width="1.50" height="3.90" fill="#000"/>
<rect x="297.68" y="762.00" width="1.50" height="3.90" fill="#000"/>
<rect x="311.39" y="762.00" width="1.50" height="3.90" fill="#000"/>
<rect x="404.33" y="762.00" width="1.50" height="3.90" fill="#000"/>
<rect x="451.52" y="762.00" width="1.50" height="3.90" fill="#000"/>
<rect x="485.00" y="762.00" width="1.50" height="3.90" fill="#000"/>
<rect x="510.97" y="762.00" width="1.50" height="3.90" fill="#000"/>
<rect x="532.19" y="762.00" width="1.50" height="3.90" fill="#000"/>
<rect x="550.14" y="762.00" width="1.50" height="3.90" fill="#000"/>
<rect x="565.68" y="762.00" width="1.50" height="3.90" fill="#000"/>
<rect x="579.39" y="762.00" width="1.50" height="3.90" fill="#000"/>
<rect x="672.33" y="762.00" width="1.50" height="3.90" fill="#000"/>
<rect x="719.25" y="762.00" width="1.50" height="3.90" fill="#000"/>
<text x="412.00" y="22.6" font-size="30.4" text-anchor="middle">(a) Nominal</text>
<text x="411.30" y="833.2" font-size="30.6" text-anchor="middle">Radius [<tspan font-style="italic">μ</tspan>m]</text>
<text transform="translate(23.00,397.70) rotate(-90)" font-size="30.5" text-anchor="middle">Altitude [km]</text>
<defs><linearGradient id="vg0" x1="0" y1="0" x2="0" y2="1"><stop offset="0.0000" stop-color="#fde725"/><stop offset="0.0156" stop-color="#f6e620"/><stop offset="0.0312" stop-color="#ece51b"/><stop offset="0.0469" stop-color="#e2e418"/><stop offset="0.0625" stop-color="#d8e219"/><stop offset="0.0781" stop-color="#cde11d"/><stop offset="0.0938" stop-color="#c2df23"/><stop offset="0.1094" stop-color="#b8de29"/><stop offset="0.1250" stop-color="#addc30"/><stop offset="0.1406" stop-color="#a2da37"/><stop offset="0.1562" stop-color="#98d83e"/><stop offset="0.1719" stop-color="#8ed645"/><stop offset="0.1875" stop-color="#84d44b"/><stop offset="0.2031" stop-color="#7ad151"/><stop offset="0.2188" stop-color="#70cf57"/><stop offset="0.2344" stop-color="#67cc5c"/><stop offset="0.2500" stop-color="#5ec962"/><stop offset="0.2656" stop-color="#56c667"/><stop offset="0.2812" stop-color="#4ec36b"/><stop offset="0.2969" stop-color="#46c06f"/><stop offset="0.3125" stop-color="#3fbc73"/><stop offset="0.3281" stop-color="#38b977"/><stop offset="0.3438" stop-color="#32b67a"/><stop offset="0.3594" stop-color="#2db27d"/><stop offset="0.3750" stop-color="#28ae80"/><stop offset="0.3906" stop-color="#25ab82"/><stop offset="0.4062" stop-color="#22a785"/><stop offset="0.4219" stop-color="#20a386"/><stop offset="0.4375" stop-color="#1fa088"/><stop offset="0.4531" stop-color="#1e9c89"/><stop offset="0.4688" stop-color="#1f988b"/><stop offset="0.4844" stop-color="#1f948c"/><stop offset="0.5000" stop-color="#21918c"/><stop offset="0.5156" stop-color="#228d8d"/><stop offset="0.5312" stop-color="#23898e"/><stop offset="0.5469" stop-color="#25858e"/><stop offset="0.5625" stop-color="#26828e"/><stop offset="0.5781" stop-color="#277e8e"/><stop offset="0.5938" stop-color="#297a8e"/><stop offset="0.6094" stop-color="#2a768e"/><stop offset="0.6250" stop-color="#2c728e"/><stop offset="0.6406" stop-color="#2e6f8e"/><stop offset="0.6562" stop-color="#2f6b8e"/><stop offset="0.6719" stop-color="#31678e"/><stop offset="0.6875" stop-color="#33638d"/><stop offset="0.7031" stop-color="#355f8d"/><stop offset="0.7188" stop-color="#375b8d"/><stop offset="0.7344" stop-color="#39568c"/><stop offset="0.7500" stop-color="#3b528b"/><stop offset="0.7656" stop-color="#3d4e8a"/><stop offset="0.7812" stop-color="#3e4989"/><stop offset="0.7969" stop-color="#404588"/><stop offset="0.8125" stop-color="#424086"/><stop offset="0.8281" stop-color="#443b84"/><stop offset="0.8438" stop-color="#453781"/><stop offset="0.8594" stop-color="#46327e"/><stop offset="0.8750" stop-color="#472d7b"/><stop offset="0.8906" stop-color="#482878"/><stop offset="0.9062" stop-color="#482374"/><stop offset="0.9219" stop-color="#481d6f"/><stop offset="0.9375" stop-color="#48186a"/><stop offset="0.9531" stop-color="#471365"/><stop offset="0.9688" stop-color="#470d60"/><stop offset="0.9844" stop-color="#46075a"/><stop offset="1.0000" stop-color="#440154"/></linearGradient></defs>
<rect x="759.0" y="36.0" width="37.0" height="725.0" fill="url(#vg0)"/>
<rect x="759.00" y="35.00" width="1.00" height="727.00" fill="#000"/>
<rect x="795.00" y="35.00" width="1.00" height="727.00" fill="#000"/>
<rect x="759.00" y="35.00" width="37.00" height="2.00" fill="#000"/>
<rect x="759.00" y="760.00" width="37.00" height="2.00" fill="#000"/>
<rect x="796.00" y="35.00" width="7.90" height="2.00" fill="#000"/>
<text x="811.30" y="45.00" font-size="21.6">10<tspan dy="-8.0" font-size="15.4">4</tspan></text>
<rect x="796.00" y="180.00" width="7.90" height="2.00" fill="#000"/>
<text x="811.30" y="188.60" font-size="21.6">10<tspan dy="-8.0" font-size="15.4">2</tspan></text>
<rect x="796.00" y="325.00" width="7.90" height="2.00" fill="#000"/>
<text x="811.30" y="333.40" font-size="21.6">10<tspan dy="-8.0" font-size="15.4">0</tspan></text>
<rect x="796.00" y="470.00" width="7.90" height="2.00" fill="#000"/>
<text x="811.30" y="478.10" font-size="21.6">10<tspan dy="-8.0" font-size="15.4">−2</tspan></text>
<rect x="796.00" y="615.00" width="7.90" height="2.00" fill="#000"/>
<text x="811.30" y="623.10" font-size="21.6">10<tspan dy="-8.0" font-size="15.4">−4</tspan></text>
<rect x="796.00" y="760.00" width="7.90" height="2.00" fill="#000"/>
<text x="811.30" y="768.10" font-size="21.6">10<tspan dy="-8.0" font-size="15.4">−6</tspan></text>
<text transform="translate(888.00,398.50) rotate(-90)" font-size="26.2" text-anchor="middle">dN/d(log<tspan font-style="italic">r</tspan>) [cm<tspan dy="-9.6" font-size="18.1">−3</tspan><tspan dy="9.6">]</tspan></text>
</g>
<g id="panel1">
<rect x="1030.0" y="36.0" width="618.0" height="725.0" fill="#440154"/>
<g shape-rendering="crispEdges">
<rect x="1030" y="36" width="30" height="18" fill="#20938c"/>
<rect x="1030" y="54" width="30" height="12" fill="#1f978b"/>
<rect x="1030" y="66" width="30" height="12" fill="#1e9b8a"/>
<rect x="1030" y="78" width="30" height="12" fill="#1f9f88"/>
<rect x="1030" y="90" width="30" height="12" fill="#1fa287"/>
<rect x="1030" y="102" width="30" height="13" fill="#21a685"/>
<rect x="1030" y="115" width="30" height="12" fill="#23a983"/>
<rect x="1030" y="127" width="30" height="12" fill="#25ac82"/>
<rect x="1030" y="139" width="30" height="12" fill="#28ae80"/>
<rect x="1030" y="151" width="30" height="12" fill="#2ab07f"/>
<rect x="1030" y="163" width="30" height="12" fill="#2eb37c"/>
<rect x="1030" y="175" width="30" height="12" fill="#31b57b"/>
<rect x="1030" y="187" width="30" height="12" fill="#35b779"/>
<rect x="1030" y="199" width="30" height="12" fill="#38b977"/>
<rect x="1030" y="211" width="30" height="12" fill="#3fbc73"/>
<rect x="1030" y="223" width="30" height="12" fill="#44bf70"/>
<rect x="1030" y="235" width="30" height="12" fill="#4cc26c"/>
<rect x="1030" y="247" width="30" height="13" fill="#50c46a"/>
<rect x="1030" y="260" width="30" height="12" fill="#54c568"/>
<rect x="1030" y="272" width="30" height="12" fill="#58c765"/>
<rect x="1030" y="284" width="30" height="12" fill="#5ec962"/>
<rect x="1030" y="296" width="30" height="12" fill="#67cc5c"/>
<rect x="1030" y="308" width="30" height="12" fill="#6ece58"/>
<rect x="1030" y="320" width="30" height="12" fill="#77d153"/>
<rect x="1030" y="332" width="30" height="12" fill="#81d34d"/>
<rect x="1030" y="344" width="30" height="12" fill="#8bd646"/>
<rect x="1030" y="356" width="30" height="12" fill="#93d741"/>
<rect x="1030" y="368" width="30" height="12" fill="#9bd93c"/>
<rect x="1030" y="380" width="30" height="12" fill="#a2da37"/>
<rect x="1030" y="392" width="30" height="13" fill="#aadc32"/>
<rect x="1030" y="405" width="30" height="12" fill="#b2dd2d"/>
<rect x="1030" y="417" width="30" height="12" fill="#bade28"/>
<rect x="1030" y="429" width="30" height="12" fill="#c8e020"/>
<rect x="1030" y="441" width="30" height="12" fill="#cae11f"/>
<rect x="1030" y="453" width="30" height="12" fill="#cde11d"/>
<rect x="1030" y="465" width="30" height="24" fill="#cae11f"/>
<rect x="1030" y="489" width="30" height="12" fill="#b2dd2d"/>
<rect x="1030" y="501" width="30" height="12" fill="#b0dd2f"/>
<rect x="1030" y="513" width="30" height="12" fill="#addc30"/>
<rect x="1030" y="525" width="30" height="25" fill="#a8db34"/>
<rect x="1030" y="550" width="30" height="48" fill="#b0dd2f"/>
<rect x="1030" y="598" width="30" height="12" fill="#bade28"/>
<rect x="1030" y="610" width="30" height="12" fill="#c8e020"/>
<rect x="1030" y="622" width="30" height="12" fill="#d5e21a"/>
<rect x="1030" y="634" width="30" height="97" fill="#dfe318"/>
<rect x="1030" y="731" width="30" height="12" fill="#d2e21b"/>
<rect x="1030" y="743" width="30" height="12" fill="#c0df25"/>
<rect x="1030" y="755" width="30" height="6" fill="#a2da37"/>
<rect x="1060" y="36" width="27" height="18" fill="#1f958b"/>
<rect x="1060" y="54" width="27" height="12" fill="#1f998a"/>
<rect x="1060" y="66" width="27" height="12" fill="#1e9d89"/>
<rect x="1060" y="78" width="27" height="12" fill="#1fa188"/>
<rect x="1060" y="90" width="27" height="12" fill="#21a585"/>
<rect x="1060" y="102" width="27" height="13" fill="#23a983"/>
<rect x="1060" y="115" width="27" height="12" fill="#26ad81"/>
<rect x="1060" y="127" width="27" height="12" fill="#29af7f"/>
<rect x="1060" y="139" width="27" height="12" fill="#2db27d"/>
<rect x="1060" y="151" width="27" height="12" fill="#31b57b"/>
<rect x="1060" y="163" width="27" height="12" fill="#35b779"/>
<rect x="1060" y="175" width="27" height="12" fill="#3aba76"/>
<rect x="1060" y="187" width="27" height="12" fill="#3fbc73"/>
<rect x="1060" y="199" width="27" height="12" fill="#44bf70"/>
<rect x="1060" y="211" width="27" height="12" fill="#48c16e"/>
<rect x="1060" y="223" width="27" height="12" fill="#4ec36b"/>
<rect x="1060" y="235" width="27" height="12" fill="#52c569"/>
<rect x="1060" y="247" width="27" height="13" fill="#58c765"/>
<rect x="1060" y="260" width="27" height="12" fill="#5ec962"/>
<rect x="1060" y="272" width="27" height="12" fill="#63cb5f"/>
<rect x="1060" y="284" width="27" height="12" fill="#69cd5b"/>
<rect x="1060" y="296" width="27" height="12" fill="#70cf57"/>
<rect x="1060" y="308" width="27" height="12" fill="#77d153"/>
<rect x="1060" y="320" width="27" height="12" fill="#81d34d"/>
<rect x="1060" y="332" width="27" height="12" fill="#8bd646"/>
<rect x="1060" y="344" width="27" height="12" fill="#95d840"/>
<rect x="1060" y="356" width="27" height="12" fill="#9bd93c"/>
<rect x="1060" y="368" width="27" height="12" fill="#a2da37"/>
<rect x="1060" y="380" width="27" height="12" fill="#a8db34"/>
<rect x="1060" y="392" width="27" height="13" fill="#addc30"/>
<rect x="1060" y="405" width="27" height="12" fill="#b0dd2f"/>
<rect x="1060" y="417" width="27" height="12" fill="#b5de2b"/>
<rect x="1060" y="429" width="27" height="12" fill="#bade28"/>
<rect x="1060" y="441" width="27" height="12" fill="#bddf26"/>
<rect x="1060" y="453" width="27" height="48" fill="#c0df25"/>
<rect x="1060" y="501" width="27" height="12" fill="#bddf26"/>
<rect x="1060" y="513" width="27" height="12" fill="#bade28"/>
<rect x="1060" y="525" width="27" height="12" fill="#b5de2b"/>
<rect x="1060" y="537" width="27" height="13" fill="#b2dd2d"/>
<rect x="1060" y="550" width="27" height="12" fill="#9bd93c"/>
<rect x="1060" y="562" width="27" height="24" fill="#75d054"/>
<rect x="1060" y="586" width="27" height="12" fill="#7ad151"/>
<rect x="1060" y="598" width="27" height="12" fill="#50c46a"/>
<rect x="1060" y="610" width="27" height="12" fill="#3fbc73"/>
<rect x="1060" y="622" width="27" height="12" fill="#2ab07f"/>
<rect x="1060" y="634" width="27" height="12" fill="#1f9f88"/>
<rect x="1060" y="646" width="27" height="12" fill="#2a788e"/>
<rect x="1060" y="658" width="27" height="12" fill="#3a538b"/>
<rect x="1060" y="670" width="27" height="12" fill="#472f7d"/>
<rect x="1060" y="755" width="27" height="6" fill="#ffffff"/>
<rect x="1087" y="36" width="27" height="18" fill="#20938c"/>
<rect x="1087" y="54" width="27" height="12" fill="#1f988b"/>
<rect x="1087" y="66" width="27" height="12" fill="#1e9c89"/>
<rect x="1087" y="78" width="27" height="12" fill="#1fa188"/>
<rect x="1087" y="90" width="27" height="12" fill="#20a486"/>
<rect x="1087" y="102" width="27" height="13" fill="#23a983"/>
<rect x="1087" y="115" width="27" height="12" fill="#26ad81"/>
<rect x="1087" y="127" width="27" height="12" fill="#29af7f"/>
<rect x="1087" y="139" width="27" height="12" fill="#2db27d"/>
<rect x="1087" y="151" width="27" height="12" fill="#32b67a"/>
<rect x="1087" y="163" width="27" height="12" fill="#37b878"/>
<rect x="1087" y="175" width="27" height="12" fill="#3bbb75"/>
<rect x="1087" y="187" width="27" height="12" fill="#40bd72"/>
<rect x="1087" y="199" width="27" height="12" fill="#46c06f"/>
<rect x="1087" y="211" width="27" height="12" fill="#4cc26c"/>
<rect x="1087" y="223" width="27" height="12" fill="#50c46a"/>
<rect x="1087" y="235" width="27" height="12" fill="#56c667"/>
<rect x="1087" y="247" width="27" height="13" fill="#5ac864"/>
<rect x="1087" y="260" width="27" height="12" fill="#60ca60"/>
<rect x="1087" y="272" width="27" height="12" fill="#65cb5e"/>
<rect x="1087" y="284" width="27" height="12" fill="#6ccd5a"/>
<rect x="1087" y="296" width="27" height="12" fill="#73d056"/>
<rect x="1087" y="308" width="27" height="12" fill="#7ad151"/>
<rect x="1087" y="320" width="27" height="12" fill="#84d44b"/>
<rect x="1087" y="332" width="27" height="12" fill="#8ed645"/>
<rect x="1087" y="344" width="27" height="12" fill="#98d83e"/>
<rect x="1087" y="356" width="27" height="12" fill="#9dd93b"/>
<rect x="1087" y="368" width="27" height="12" fill="#a5db36"/>
<rect x="1087" y="380" width="27" height="12" fill="#aadc32"/>
<rect x="1087" y="392" width="27" height="13" fill="#b0dd2f"/>
<rect x="1087" y="405" width="27" height="12" fill="#b8de29"/>
<rect x="1087" y="417" width="27" height="12" fill="#bddf26"/>
<rect x="1087" y="429" width="27" height="12" fill="#c0df25"/>
<rect x="1087" y="441" width="27" height="24" fill="#c2df23"/>
<rect x="1087" y="465" width="27" height="24" fill="#c5e021"/>
<rect x="1087" y="489" width="27" height="12" fill="#c8e020"/>
<rect x="1087" y="501" width="27" height="24" fill="#c5e021"/>
<rect x="1087" y="525" width="27" height="12" fill="#c2df23"/>
<rect x="1087" y="537" width="27" height="13" fill="#bddf26"/>
<rect x="1087" y="550" width="27" height="12" fill="#9dd93b"/>
<rect x="1087" y="562" width="27" height="36" fill="#75d054"/>
<rect x="1087" y="598" width="27" height="12" fill="#52c569"/>
<rect x="1087" y="610" width="27" height="12" fill="#44bf70"/>
<rect x="1087" y="622" width="27" height="12" fill="#2eb37c"/>
<rect x="1087" y="634" width="27" height="12" fill="#1fa188"/>
<rect x="1087" y="646" width="27" height="12" fill="#287c8e"/>
<rect x="1087" y="658" width="27" height="12" fill="#38588c"/>
<rect x="1087" y="670" width="27" height="12" fill="#46337f"/>
<rect x="1087" y="755" width="27" height="6" fill="#ffffff"/>
<rect x="1114" y="36" width="27" height="18" fill="#20928c"/>
<rect x="1114" y="54" width="27" height="12" fill="#1f958b"/>
<rect x="1114" y="66" width="27" height="12" fill="#1f9a8a"/>
<rect x="1114" y="78" width="27" height="12" fill="#1f9e89"/>
<rect x="1114" y="90" width="27" height="12" fill="#1fa287"/>
<rect x="1114" y="102" width="27" height="13" fill="#21a685"/>
<rect x="1114" y="115" width="27" height="12" fill="#25ab82"/>
<rect x="1114" y="127" width="27" height="12" fill="#27ad81"/>
<rect x="1114" y="139" width="27" height="12" fill="#2ab07f"/>
<rect x="1114" y="151" width="27" height="12" fill="#2fb47c"/>
<rect x="1114" y="163" width="27" height="12" fill="#34b679"/>
<rect x="1114" y="175" width="27" height="12" fill="#38b977"/>
<rect x="1114" y="187" width="27" height="12" fill="#3dbc74"/>
<rect x="1114" y="199" width="27" height="12" fill="#44bf70"/>
<rect x="1114" y="211" width="27" height="12" fill="#48c16e"/>
<rect x="1114" y="223" width="27" height="12" fill="#4ec36b"/>
<rect x="1114" y="235" width="27" height="12" fill="#52c569"/>
<rect x="1114" y="247" width="27" height="13" fill="#58c765"/>
<rect x="1114" y="260" width="27" height="12" fill="#5ec962"/>
<rect x="1114" y="272" width="27" height="12" fill="#65cb5e"/>
<rect x="1114" y="284" width="27" height="12" fill="#6ccd5a"/>
<rect x="1114" y="296" width="27" height="12" fill="#73d056"/>
<rect x="1114" y="308" width="27" height="12" fill="#7ad151"/>
<rect x="1114" y="320" width="27" height="12" fill="#84d44b"/>
<rect x="1114" y="332" width="27" height="12" fill="#8bd646"/>
<rect x="1114" y="344" width="27" height="12" fill="#95d840"/>
<rect x="1114" y="356" width="27" height="12" fill="#9dd93b"/>
<rect x="1114" y="368" width="27" height="12" fill="#a5db36"/>
<rect x="1114" y="380" width="27" height="12" fill="#aadc32"/>
<rect x="1114" y="392" width="27" height="13" fill="#b0dd2f"/>
<rect x="1114" y="405" width="27" height="12" fill="#b8de29"/>
<rect x="1114" y="417" width="27" height="12" fill="#bddf26"/>
<rect x="1114" y="429" width="27" height="12" fill="#c0df25"/>
<rect x="1114" y="441" width="27" height="24" fill="#c2df23"/>
<rect x="1114" y="465" width="27" height="24" fill="#c5e021"/>
<rect x="1114" y="489" width="27" height="12" fill="#c8e020"/>
<rect x="1114" y="501" width="27" height="24" fill="#c5e021"/>
<rect x="1114" y="525" width="27" height="12" fill="#c2df23"/>
<rect x="1114" y="537" width="27" height="13" fill="#bddf26"/>
<rect x="1114" y="550" width="27" height="12" fill="#9dd93b"/>
<rect x="1114" y="562" width="27" height="36" fill="#75d054"/>
<rect x="1114" y="598" width="27" height="12" fill="#58c765"/>
<rect x="1114" y="610" width="27" height="12" fill="#4ec36b"/>
<rect x="1114" y="622" width="27" height="12" fill="#35b779"/>
<rect x="1114" y="634" width="27" height="12" fill="#20a486"/>
<rect x="1114" y="646" width="27" height="12" fill="#27808e"/>
<rect x="1114" y="658" width="27" height="12" fill="#375b8d"/>
<rect x="1114" y="670" width="27" height="12" fill="#453781"/>
<rect x="1114" y="755" width="27" height="6" fill="#ffffff"/>
<rect x="1141" y="36" width="27" height="18" fill="#228d8d"/>
<rect x="1141" y="54" width="27" height="12" fill="#21918c"/>
<rect x="1141" y="66" width="27" height="12" fill="#1f958b"/>
<rect x="1141" y="78" width="27" height="12" fill="#1f9a8a"/>
<rect x="1141" y="90" width="27" height="12" fill="#1f9e89"/>
<rect x="1141" y="102" width="27" height="13" fill="#1fa287"/>
<rect x="1141" y="115" width="27" height="12" fill="#22a785"/>
<rect x="1141" y="127" width="27" height="12" fill="#24aa83"/>
<rect x="1141" y="139" width="27" height="12" fill="#27ad81"/>
<rect x="1141" y="151" width="27" height="12" fill="#2ab07f"/>
<rect x="1141" y="163" width="27" height="12" fill="#2fb47c"/>
<rect x="1141" y="175" width="27" height="12" fill="#34b679"/>
<rect x="1141" y="187" width="27" height="12" fill="#3aba76"/>
<rect x="1141" y="199" width="27" height="12" fill="#3fbc73"/>
<rect x="1141" y="211" width="27" height="12" fill="#44bf70"/>
<rect x="1141" y="223" width="27" height="12" fill="#48c16e"/>
<rect x="1141" y="235" width="27" height="12" fill="#4ec36b"/>
<rect x="1141" y="247" width="27" height="13" fill="#54c568"/>
<rect x="1141" y="260" width="27" height="12" fill="#5ac864"/>
<rect x="1141" y="272" width="27" height="12" fill="#60ca60"/>
<rect x="1141" y="284" width="27" height="12" fill="#67cc5c"/>
<rect x="1141" y="296" width="27" height="12" fill="#6ece58"/>
<rect x="1141" y="308" width="27" height="12" fill="#75d054"/>
<rect x="1141" y="320" width="27" height="12" fill="#7cd250"/>
<rect x="1141" y="332" width="27" height="12" fill="#86d549"/>
<rect x="1141" y="344" width="27" height="12" fill="#8ed645"/>
<rect x="1141" y="356" width="27" height="12" fill="#95d840"/>
<rect x="1141" y="368" width="27" height="12" fill="#9dd93b"/>
<rect x="1141" y="380" width="27" height="12" fill="#a5db36"/>
<rect x="1141" y="392" width="27" height="13" fill="#addc30"/>
<rect x="1141" y="405" width="27" height="12" fill="#b5de2b"/>
<rect x="1141" y="417" width="27" height="12" fill="#bddf26"/>
<rect x="1141" y="429" width="27" height="12" fill="#c0df25"/>
<rect x="1141" y="441" width="27" height="24" fill="#c2df23"/>
<rect x="1141" y="465" width="27" height="24" fill="#c5e021"/>
<rect x="1141" y="489" width="27" height="12" fill="#c8e020"/>
<rect x="1141" y="501" width="27" height="24" fill="#c5e021"/>
<rect x="1141" y="525" width="27" height="12" fill="#c2df23"/>
<rect x="1141" y="537" width="27" height="13" fill="#bddf26"/>
<rect x="1141" y="550" width="27" height="12" fill="#9dd93b"/>
<rect x="1141" y="562" width="27" height="36" fill="#75d054"/>
<rect x="1141" y="598" width="27" height="12" fill="#5ec962"/>
<rect x="1141" y="610" width="27" height="12" fill="#58c765"/>
<rect x="1141" y="622" width="27" height="12" fill="#3fbc73"/>
<rect x="1141" y="634" width="27" height="12" fill="#23a983"/>
<rect x="1141" y="646" width="27" height="12" fill="#25848e"/>
<rect x="1141" y="658" width="27" height="12" fill="#33628d"/>
<rect x="1141" y="670" width="27" height="12" fill="#433e85"/>
<rect x="1141" y="755" width="27" height="6" fill="#ffffff"/>
<rect x="1168" y="36" width="27" height="18" fill="#25848e"/>
<rect x="1168" y="54" width="27" height="12" fill="#23898e"/>
<rect x="1168" y="66" width="27" height="12" fill="#218e8d"/>
<rect x="1168" y="78" width="27" height="12" fill="#20928c"/>
<rect x="1168" y="90" width="27" height="12" fill="#1f968b"/>
<rect x="1168" y="102" width="27" height="13" fill="#1e9b8a"/>
<rect x="1168" y="115" width="27" height="12" fill="#1fa088"/>
<rect x="1168" y="127" width="27" height="12" fill="#20a386"/>
<rect x="1168" y="139" width="27" height="12" fill="#22a785"/>
<rect x="1168" y="151" width="27" height="12" fill="#25ab82"/>
<rect x="1168" y="163" width="27" height="12" fill="#28ae80"/>
<rect x="1168" y="175" width="27" height="12" fill="#2db27d"/>
<rect x="1168" y="187" width="27" height="12" fill="#32b67a"/>
<rect x="1168" y="199" width="27" height="12" fill="#38b977"/>
<rect x="1168" y="211" width="27" height="12" fill="#3bbb75"/>
<rect x="1168" y="223" width="27" height="12" fill="#40bd72"/>
<rect x="1168" y="235" width="27" height="12" fill="#44bf70"/>
<rect x="1168" y="247" width="27" height="13" fill="#4ac16d"/>
<rect x="1168" y="260" width="27" height="12" fill="#50c46a"/>
<rect x="1168" y="272" width="27" height="12" fill="#56c667"/>
<rect x="1168" y="284" width="27" height="12" fill="#5cc863"/>
<rect x="1168" y="296" width="27" height="12" fill="#63cb5f"/>
<rect x="1168" y="308" width="27" height="12" fill="#69cd5b"/>
<rect x="1168" y="320" width="27" height="12" fill="#70cf57"/>
<rect x="1168" y="332" width="27" height="12" fill="#77d153"/>
<rect x="1168" y="344" width="27" height="12" fill="#81d34d"/>
<rect x="1168" y="356" width="27" height="12" fill="#89d548"/>
<rect x="1168" y="368" width="27" height="12" fill="#90d743"/>
<rect x="1168" y="380" width="27" height="12" fill="#98d83e"/>
<rect x="1168" y="392" width="27" height="13" fill="#a0da39"/>
<rect x="1168" y="405" width="27" height="12" fill="#a8db34"/>
<rect x="1168" y="417" width="27" height="12" fill="#b0dd2f"/>
<rect x="1168" y="429" width="27" height="12" fill="#b2dd2d"/>
<rect x="1168" y="441" width="27" height="12" fill="#b5de2b"/>
<rect x="1168" y="453" width="27" height="36" fill="#bade28"/>
<rect x="1168" y="489" width="27" height="12" fill="#bddf26"/>
<rect x="1168" y="501" width="27" height="36" fill="#bade28"/>
<rect x="1168" y="537" width="27" height="13" fill="#b5de2b"/>
<rect x="1168" y="550" width="27" height="12" fill="#9bd93c"/>
<rect x="1168" y="562" width="27" height="36" fill="#75d054"/>
<rect x="1168" y="598" width="27" height="12" fill="#65cb5e"/>
<rect x="1168" y="610" width="27" height="12" fill="#63cb5f"/>
<rect x="1168" y="622" width="27" height="12" fill="#4cc26c"/>
<rect x="1168" y="634" width="27" height="12" fill="#28ae80"/>
<rect x="1168" y="646" width="27" height="12" fill="#238a8d"/>
<rect x="1168" y="658" width="27" height="12" fill="#31688e"/>
<rect x="1168" y="670" width="27" height="12" fill="#414487"/>
<rect x="1168" y="755" width="27" height="6" fill="#ffffff"/>
<rect x="1195" y="36" width="27" height="18" fill="#29798e"/>
<rect x="1195" y="54" width="27" height="12" fill="#277e8e"/>
<rect x="1195" y="66" width="27" height="12" fill="#26828e"/>
<rect x="1195" y="78" width="27" height="12" fill="#23888e"/>
<rect x="1195" y="90" width="27" height="12" fill="#228d8d"/>
<rect x="1195" y="102" width="27" height="13" fill="#20928c"/>
<rect x="1195" y="115" width="27" height="12" fill="#1f968b"/>
<rect x="1195" y="127" width="27" height="12" fill="#1f9a8a"/>
<rect x="1195" y="139" width="27" height="12" fill="#1f9f88"/>
<rect x="1195" y="151" width="27" height="12" fill="#1fa287"/>
<rect x="1195" y="163" width="27" height="12" fill="#21a685"/>
<rect x="1195" y="175" width="27" height="12" fill="#25ab82"/>
<rect x="1195" y="187" width="27" height="12" fill="#28ae80"/>
<rect x="1195" y="199" width="27" height="12" fill="#2eb37c"/>
<rect x="1195" y="211" width="27" height="12" fill="#32b67a"/>
<rect x="1195" y="223" width="27" height="12" fill="#37b878"/>
<rect x="1195" y="235" width="27" height="12" fill="#3bbb75"/>
<rect x="1195" y="247" width="27" height="13" fill="#40bd72"/>
<rect x="1195" y="260" width="27" height="12" fill="#46c06f"/>
<rect x="1195" y="272" width="27" height="12" fill="#4cc26c"/>
<rect x="1195" y="284" width="27" height="12" fill="#50c46a"/>
<rect x="1195" y="296" width="27" height="12" fill="#56c667"/>
<rect x="1195" y="308" width="27" height="12" fill="#5ac864"/>
<rect x="1195" y="320" width="27" height="12" fill="#63cb5f"/>
<rect x="1195" y="332" width="27" height="12" fill="#69cd5b"/>
<rect x="1195" y="344" width="27" height="12" fill="#70cf57"/>
<rect x="1195" y="356" width="27" height="12" fill="#77d153"/>
<rect x="1195" y="368" width="27" height="12" fill="#7fd34e"/>
<rect x="1195" y="380" width="27" height="12" fill="#86d549"/>
<rect x="1195" y="392" width="27" height="13" fill="#90d743"/>
<rect x="1195" y="405" width="27" height="12" fill="#98d83e"/>
<rect x="1195" y="417" width="27" height="12" fill="#a2da37"/>
<rect x="1195" y="429" width="27" height="12" fill="#a5db36"/>
<rect x="1195" y="441" width="27" height="12" fill="#a8db34"/>
<rect x="1195" y="453" width="27" height="36" fill="#addc30"/>
<rect x="1195" y="489" width="27" height="12" fill="#b0dd2f"/>
<rect x="1195" y="501" width="27" height="36" fill="#addc30"/>
<rect x="1195" y="537" width="27" height="13" fill="#a8db34"/>
<rect x="1195" y="550" width="27" height="12" fill="#98d83e"/>
<rect x="1195" y="562" width="27" height="12" fill="#75d054"/>
<rect x="1195" y="574" width="27" height="24" fill="#77d153"/>
<rect x="1195" y="598" width="27" height="12" fill="#6ece58"/>
<rect x="1195" y="610" width="27" height="12" fill="#6ccd5a"/>
<rect x="1195" y="622" width="27" height="12" fill="#56c667"/>
<rect x="1195" y="634" width="27" height="12" fill="#2fb47c"/>
<rect x="1195" y="646" width="27" height="12" fill="#21918c"/>
<rect x="1195" y="658" width="27" height="12" fill="#2d708e"/>
<rect x="1195" y="670" width="27" height="12" fill="#3e4989"/>
<rect x="1195" y="755" width="27" height="6" fill="#ffffff"/>
<rect x="1222" y="36" width="26" height="18" fill="#306a8e"/>
<rect x="1222" y="54" width="26" height="12" fill="#2e6f8e"/>
<rect x="1222" y="66" width="26" height="12" fill="#2b748e"/>
<rect x="1222" y="78" width="26" height="12" fill="#29798e"/>
<rect x="1222" y="90" width="26" height="12" fill="#277f8e"/>
<rect x="1222" y="102" width="26" height="13" fill="#25838e"/>
<rect x="1222" y="115" width="26" height="12" fill="#23898e"/>
<rect x="1222" y="127" width="26" height="12" fill="#218e8d"/>
<rect x="1222" y="139" width="26" height="12" fill="#20928c"/>
<rect x="1222" y="151" width="26" height="12" fill="#1f978b"/>
<rect x="1222" y="163" width="26" height="12" fill="#1e9c89"/>
<rect x="1222" y="175" width="26" height="12" fill="#1fa188"/>
<rect x="1222" y="187" width="26" height="12" fill="#20a486"/>
<rect x="1222" y="199" width="26" height="12" fill="#23a983"/>
<rect x="1222" y="211" width="26" height="12" fill="#26ad81"/>
<rect x="1222" y="223" width="26" height="12" fill="#29af7f"/>
<rect x="1222" y="235" width="26" height="12" fill="#2eb37c"/>
<rect x="1222" y="247" width="26" height="13" fill="#32b67a"/>
<rect x="1222" y="260" width="26" height="12" fill="#37b878"/>
<rect x="1222" y="272" width="26" height="12" fill="#3bbb75"/>
<rect x="1222" y="284" width="26" height="12" fill="#40bd72"/>
<rect x="1222" y="296" width="26" height="12" fill="#46c06f"/>
<rect x="1222" y="308" width="26" height="12" fill="#4cc26c"/>
<rect x="1222" y="320" width="26" height="12" fill="#52c569"/>
<rect x="1222" y="332" width="26" height="12" fill="#58c765"/>
<rect x="1222" y="344" width="26" height="12" fill="#5ec962"/>
<rect x="1222" y="356" width="26" height="12" fill="#63cb5f"/>
<rect x="1222" y="368" width="26" height="12" fill="#69cd5b"/>
<rect x="1222" y="380" width="26" height="12" fill="#70cf57"/>
<rect x="1222" y="392" width="26" height="13" fill="#7ad151"/>
<rect x="1222" y="405" width="26" height="12" fill="#84d44b"/>
<rect x="1222" y="417" width="26" height="12" fill="#8ed645"/>
<rect x="1222" y="429" width="26" height="12" fill="#93d741"/>
<rect x="1222" y="441" width="26" height="12" fill="#95d840"/>
<rect x="1222" y="453" width="26" height="12" fill="#9bd93c"/>
<rect x="1222" y="465" width="26" height="12" fill="#9dd93b"/>
<rect x="1222" y="477" width="26" height="12" fill="#a0da39"/>
<rect x="1222" y="489" width="26" height="12" fill="#a2da37"/>
<rect x="1222" y="501" width="26" height="24" fill="#a0da39"/>
<rect x="1222" y="525" width="26" height="12" fill="#9dd93b"/>
<rect x="1222" y="537" width="26" height="13" fill="#9bd93c"/>
<rect x="1222" y="550" width="26" height="12" fill="#90d743"/>
<rect x="1222" y="562" width="26" height="12" fill="#75d054"/>
<rect x="1222" y="574" width="26" height="24" fill="#7ad151"/>
<rect x="1222" y="598" width="26" height="12" fill="#75d054"/>
<rect x="1222" y="610" width="26" height="12" fill="#70cf57"/>
<rect x="1222" y="622" width="26" height="12" fill="#5ec962"/>
<rect x="1222" y="634" width="26" height="12" fill="#37b878"/>
<rect x="1222" y="646" width="26" height="12" fill="#1f978b"/>
<rect x="1222" y="658" width="26" height="12" fill="#2a788e"/>
<rect x="1222" y="670" width="26" height="12" fill="#3c508b"/>
<rect x="1222" y="682" width="26" height="13" fill="#460b5e"/>
<rect x="1222" y="755" width="26" height="6" fill="#ffffff"/>
<rect x="1248" y="36" width="27" height="18" fill="#38588c"/>
<rect x="1248" y="54" width="27" height="12" fill="#365d8d"/>
<rect x="1248" y="66" width="27" height="12" fill="#33638d"/>
<rect x="1248" y="78" width="27" height="12" fill="#30698e"/>
<rect x="1248" y="90" width="27" height="12" fill="#2e6f8e"/>
<rect x="1248" y="102" width="27" height="13" fill="#2c738e"/>
<rect x="1248" y="115" width="27" height="12" fill="#29798e"/>
<rect x="1248" y="127" width="27" height="12" fill="#277f8e"/>
<rect x="1248" y="139" width="27" height="12" fill="#25838e"/>
<rect x="1248" y="151" width="27" height="12" fill="#23898e"/>
<rect x="1248" y="163" width="27" height="12" fill="#218e8d"/>
<rect x="1248" y="175" width="27" height="12" fill="#20938c"/>
<rect x="1248" y="187" width="27" height="12" fill="#1f988b"/>
<rect x="1248" y="199" width="27" height="12" fill="#1f9e89"/>
<rect x="1248" y="211" width="27" height="12" fill="#1fa188"/>
<rect x="1248" y="223" width="27" height="12" fill="#20a386"/>
<rect x="1248" y="235" width="27" height="12" fill="#21a685"/>
<rect x="1248" y="247" width="27" height="13" fill="#23a983"/>
<rect x="1248" y="260" width="27" height="12" fill="#25ac82"/>
<rect x="1248" y="272" width="27" height="12" fill="#29af7f"/>
<rect x="1248" y="284" width="27" height="12" fill="#2eb37c"/>
<rect x="1248" y="296" width="27" height="12" fill="#32b67a"/>
<rect x="1248" y="308" width="27" height="12" fill="#38b977"/>
<rect x="1248" y="320" width="27" height="12" fill="#3dbc74"/>
<rect x="1248" y="332" width="27" height="12" fill="#42be71"/>
<rect x="1248" y="344" width="27" height="12" fill="#48c16e"/>
<rect x="1248" y="356" width="27" height="12" fill="#4ec36b"/>
<rect x="1248" y="368" width="27" height="12" fill="#52c569"/>
<rect x="1248" y="380" width="27" height="12" fill="#5ac864"/>
<rect x="1248" y="392" width="27" height="13" fill="#63cb5f"/>
<rect x="1248" y="405" width="27" height="12" fill="#6ccd5a"/>
<rect x="1248" y="417" width="27" height="12" fill="#75d054"/>
<rect x="1248" y="429" width="27" height="12" fill="#7ad151"/>
<rect x="1248" y="441" width="27" height="12" fill="#7fd34e"/>
<rect x="1248" y="453" width="27" height="12" fill="#84d44b"/>
<rect x="1248" y="465" width="27" height="12" fill="#86d549"/>
<rect x="1248" y="477" width="27" height="12" fill="#8bd646"/>
<rect x="1248" y="489" width="27" height="61" fill="#8ed645"/>
<rect x="1248" y="550" width="27" height="12" fill="#86d549"/>
<rect x="1248" y="562" width="27" height="12" fill="#75d054"/>
<rect x="1248" y="574" width="27" height="36" fill="#7ad151"/>
<rect x="1248" y="610" width="27" height="12" fill="#77d153"/>
<rect x="1248" y="622" width="27" height="12" fill="#65cb5e"/>
<rect x="1248" y="634" width="27" height="12" fill="#3fbc73"/>
<rect x="1248" y="646" width="27" height="12" fill="#1f9e89"/>
<rect x="1248" y="658" width="27" height="12" fill="#27808e"/>
<rect x="1248" y="670" width="27" height="12" fill="#38588c"/>
<rect x="1248" y="682" width="27" height="13" fill="#481769"/>
<rect x="1248" y="755" width="27" height="6" fill="#ffffff"/>
<rect x="1275" y="36" width="27" height="18" fill="#433e85"/>
<rect x="1275" y="54" width="27" height="12" fill="#404588"/>
<rect x="1275" y="66" width="27" height="12" fill="#3e4c8a"/>
<rect x="1275" y="78" width="27" height="12" fill="#3b528b"/>
<rect x="1275" y="90" width="27" height="12" fill="#38588c"/>
<rect x="1275" y="102" width="27" height="13" fill="#355e8d"/>
<rect x="1275" y="115" width="27" height="12" fill="#32648e"/>
<rect x="1275" y="127" width="27" height="12" fill="#306a8e"/>
<rect x="1275" y="139" width="27" height="12" fill="#2d708e"/>
<rect x="1275" y="151" width="27" height="12" fill="#2b748e"/>
<rect x="1275" y="163" width="27" height="12" fill="#297a8e"/>
<rect x="1275" y="175" width="27" height="12" fill="#27808e"/>
<rect x="1275" y="187" width="27" height="12" fill="#25848e"/>
<rect x="1275" y="199" width="27" height="12" fill="#238a8d"/>
<rect x="1275" y="211" width="27" height="12" fill="#228d8d"/>
<rect x="1275" y="223" width="27" height="12" fill="#21908d"/>
<rect x="1275" y="235" width="27" height="12" fill="#20928c"/>
<rect x="1275" y="247" width="27" height="13" fill="#1f968b"/>
<rect x="1275" y="260" width="27" height="12" fill="#1f9a8a"/>
<rect x="1275" y="272" width="27" height="12" fill="#1f9e89"/>
<rect x="1275" y="284" width="27" height="12" fill="#1fa188"/>
<rect x="1275" y="296" width="27" height="12" fill="#20a486"/>
<rect x="1275" y="308" width="27" height="12" fill="#22a884"/>
<rect x="1275" y="320" width="27" height="12" fill="#25ac82"/>
<rect x="1275" y="332" width="27" height="12" fill="#2ab07f"/>
<rect x="1275" y="344" width="27" height="12" fill="#2fb47c"/>
<rect x="1275" y="356" width="27" height="12" fill="#35b779"/>
<rect x="1275" y="368" width="27" height="12" fill="#3bbb75"/>
<rect x="1275" y="380" width="27" height="12" fill="#42be71"/>
<rect x="1275" y="392" width="27" height="13" fill="#4ac16d"/>
<rect x="1275" y="405" width="27" height="12" fill="#52c569"/>
<rect x="1275" y="417" width="27" height="12" fill="#5ac864"/>
<rect x="1275" y="429" width="27" height="12" fill="#60ca60"/>
<rect x="1275" y="441" width="27" height="12" fill="#65cb5e"/>
<rect x="1275" y="453" width="27" height="12" fill="#6ccd5a"/>
<rect x="1275" y="465" width="27" height="12" fill="#6ece58"/>
<rect x="1275" y="477" width="27" height="12" fill="#70cf57"/>
<rect x="1275" y="489" width="27" height="24" fill="#75d054"/>
<rect x="1275" y="513" width="27" height="24" fill="#77d153"/>
<rect x="1275" y="537" width="27" height="13" fill="#7ad151"/>
<rect x="1275" y="550" width="27" height="12" fill="#7fd34e"/>
<rect x="1275" y="562" width="27" height="12" fill="#75d054"/>
<rect x="1275" y="574" width="27" height="48" fill="#7ad151"/>
<rect x="1275" y="622" width="27" height="12" fill="#6ccd5a"/>
<rect x="1275" y="634" width="27" height="12" fill="#46c06f"/>
<rect x="1275" y="646" width="27" height="12" fill="#20a386"/>
<rect x="1275" y="658" width="27" height="12" fill="#24868e"/>
<rect x="1275" y="670" width="27" height="12" fill="#355e8d"/>
<rect x="1275" y="682" width="27" height="13" fill="#481d6f"/>
<rect x="1275" y="755" width="27" height="6" fill="#ffffff"/>
<rect x="1302" y="36" width="27" height="18" fill="#481668"/>
<rect x="1302" y="54" width="27" height="12" fill="#481f70"/>
<rect x="1302" y="66" width="27" height="12" fill="#482878"/>
<rect x="1302" y="78" width="27" height="12" fill="#46307e"/>
<rect x="1302" y="90" width="27" height="12" fill="#443983"/>
<rect x="1302" y="102" width="27" height="13" fill="#424186"/>
<rect x="1302" y="115" width="27" height="12" fill="#3e4989"/>
<rect x="1302" y="127" width="27" height="12" fill="#3c508b"/>
<rect x="1302" y="139" width="27" height="12" fill="#39568c"/>
<rect x="1302" y="151" width="27" height="12" fill="#365d8d"/>
<rect x="1302" y="163" width="27" height="12" fill="#33638d"/>
<rect x="1302" y="175" width="27" height="12" fill="#30698e"/>
<rect x="1302" y="187" width="27" height="12" fill="#2e6f8e"/>
<rect x="1302" y="199" width="27" height="12" fill="#2b748e"/>
<rect x="1302" y="211" width="27" height="12" fill="#2a768e"/>
<rect x="1302" y="223" width="27" height="12" fill="#2a788e"/>
<rect x="1302" y="235" width="27" height="12" fill="#297a8e"/>
<rect x="1302" y="247" width="27" height="13" fill="#287d8e"/>
<rect x="1302" y="260" width="27" height="12" fill="#27808e"/>
<rect x="1302" y="272" width="27" height="12" fill="#26828e"/>
<rect x="1302" y="284" width="27" height="12" fill="#25858e"/>
<rect x="1302" y="296" width="27" height="12" fill="#23888e"/>
<rect x="1302" y="308" width="27" height="12" fill="#228b8d"/>
<rect x="1302" y="320" width="27" height="12" fill="#218f8d"/>
<rect x="1302" y="332" width="27" height="12" fill="#20928c"/>
<rect x="1302" y="344" width="27" height="12" fill="#1f958b"/>
<rect x="1302" y="356" width="27" height="12" fill="#1f9f88"/>
<rect x="1302" y="368" width="27" height="12" fill="#22a884"/>
<rect x="1302" y="380" width="27" height="12" fill="#27ad81"/>
<rect x="1302" y="392" width="27" height="13" fill="#2db27d"/>
<rect x="1302" y="405" width="27" height="12" fill="#34b679"/>
<rect x="1302" y="417" width="27" height="12" fill="#3dbc74"/>
<rect x="1302" y="429" width="27" height="12" fill="#42be71"/>
<rect x="1302" y="441" width="27" height="12" fill="#4ac16d"/>
<rect x="1302" y="453" width="27" height="12" fill="#50c46a"/>
<rect x="1302" y="465" width="27" height="12" fill="#54c568"/>
<rect x="1302" y="477" width="27" height="12" fill="#58c765"/>
<rect x="1302" y="489" width="27" height="12" fill="#5ec962"/>
<rect x="1302" y="501" width="27" height="12" fill="#60ca60"/>
<rect x="1302" y="513" width="27" height="12" fill="#63cb5f"/>
<rect x="1302" y="525" width="27" height="12" fill="#65cb5e"/>
<rect x="1302" y="537" width="27" height="13" fill="#6ccd5a"/>
<rect x="1302" y="550" width="27" height="12" fill="#77d153"/>
<rect x="1302" y="562" width="27" height="12" fill="#75d054"/>
<rect x="1302" y="574" width="27" height="48" fill="#7ad151"/>
<rect x="1302" y="622" width="27" height="12" fill="#6ece58"/>
<rect x="1302" y="634" width="27" height="12" fill="#4ec36b"/>
<rect x="1302" y="646" width="27" height="12" fill="#22a785"/>
<rect x="1302" y="658" width="27" height="12" fill="#228d8d"/>
<rect x="1302" y="670" width="27" height="12" fill="#33638d"/>
<rect x="1302" y="682" width="27" height="13" fill="#482475"/>
<rect x="1302" y="755" width="27" height="6" fill="#ffffff"/>
<rect x="1329" y="90" width="27" height="12" fill="#471365"/>
<rect x="1329" y="102" width="27" height="13" fill="#481d6f"/>
<rect x="1329" y="115" width="27" height="12" fill="#482878"/>
<rect x="1329" y="127" width="27" height="12" fill="#472f7d"/>
<rect x="1329" y="139" width="27" height="12" fill="#453781"/>
<rect x="1329" y="151" width="27" height="12" fill="#423f85"/>
<rect x="1329" y="163" width="27" height="12" fill="#404688"/>
<rect x="1329" y="175" width="27" height="12" fill="#3e4c8a"/>
<rect x="1329" y="187" width="27" height="12" fill="#3c508b"/>
<rect x="1329" y="199" width="27" height="12" fill="#3a548c"/>
<rect x="1329" y="211" width="27" height="12" fill="#38588c"/>
<rect x="1329" y="223" width="27" height="12" fill="#375a8c"/>
<rect x="1329" y="235" width="27" height="12" fill="#365d8d"/>
<rect x="1329" y="247" width="27" height="13" fill="#355e8d"/>
<rect x="1329" y="260" width="27" height="12" fill="#34608d"/>
<rect x="1329" y="272" width="27" height="12" fill="#33628d"/>
<rect x="1329" y="284" width="27" height="12" fill="#31668e"/>
<rect x="1329" y="296" width="27" height="12" fill="#306a8e"/>
<rect x="1329" y="308" width="27" height="12" fill="#2e6d8e"/>
<rect x="1329" y="320" width="27" height="12" fill="#2c738e"/>
<rect x="1329" y="332" width="27" height="12" fill="#29798e"/>
<rect x="1329" y="344" width="27" height="12" fill="#27808e"/>
<rect x="1329" y="356" width="27" height="12" fill="#23898e"/>
<rect x="1329" y="368" width="27" height="12" fill="#20928c"/>
<rect x="1329" y="380" width="27" height="12" fill="#1f998a"/>
<rect x="1329" y="392" width="27" height="13" fill="#1fa088"/>
<rect x="1329" y="405" width="27" height="12" fill="#21a585"/>
<rect x="1329" y="417" width="27" height="12" fill="#25ac82"/>
<rect x="1329" y="429" width="27" height="12" fill="#29af7f"/>
<rect x="1329" y="441" width="27" height="12" fill="#2eb37c"/>
<rect x="1329" y="453" width="27" height="12" fill="#32b67a"/>
<rect x="1329" y="465" width="27" height="12" fill="#3aba76"/>
<rect x="1329" y="477" width="27" height="12" fill="#40bd72"/>
<rect x="1329" y="489" width="27" height="12" fill="#48c16e"/>
<rect x="1329" y="501" width="27" height="12" fill="#50c46a"/>
<rect x="1329" y="513" width="27" height="12" fill="#56c667"/>
<rect x="1329" y="525" width="27" height="12" fill="#5ec962"/>
<rect x="1329" y="537" width="27" height="13" fill="#63cb5f"/>
<rect x="1329" y="550" width="27" height="12" fill="#6ece58"/>
<rect x="1329" y="562" width="27" height="12" fill="#75d054"/>
<rect x="1329" y="574" width="27" height="12" fill="#77d153"/>
<rect x="1329" y="586" width="27" height="24" fill="#7ad151"/>
<rect x="1329" y="610" width="27" height="12" fill="#77d153"/>
<rect x="1329" y="622" width="27" height="12" fill="#70cf57"/>
<rect x="1329" y="634" width="27" height="12" fill="#52c569"/>
<rect x="1329" y="646" width="27" height="12" fill="#23a983"/>
<rect x="1329" y="658" width="27" height="12" fill="#20928c"/>
<rect x="1329" y="670" width="27" height="12" fill="#306a8e"/>
<rect x="1329" y="682" width="27" height="13" fill="#472d7b"/>
<rect x="1329" y="755" width="27" height="6" fill="#ffffff"/>
<rect x="1356" y="139" width="27" height="12" fill="#460b5e"/>
<rect x="1356" y="151" width="27" height="12" fill="#481668"/>
<rect x="1356" y="163" width="27" height="12" fill="#481d6f"/>
<rect x="1356" y="175" width="27" height="12" fill="#482374"/>
<rect x="1356" y="187" width="27" height="12" fill="#482979"/>
<rect x="1356" y="199" width="27" height="12" fill="#472e7c"/>
<rect x="1356" y="211" width="27" height="12" fill="#46307e"/>
<rect x="1356" y="223" width="27" height="12" fill="#463480"/>
<rect x="1356" y="235" width="27" height="12" fill="#453781"/>
<rect x="1356" y="247" width="27" height="13" fill="#443a83"/>
<rect x="1356" y="260" width="27" height="12" fill="#433e85"/>
<rect x="1356" y="272" width="27" height="12" fill="#424186"/>
<rect x="1356" y="284" width="27" height="12" fill="#404588"/>
<rect x="1356" y="296" width="27" height="12" fill="#3f4889"/>
<rect x="1356" y="308" width="27" height="12" fill="#3e4c8a"/>
<rect x="1356" y="320" width="27" height="12" fill="#3b518b"/>
<rect x="1356" y="332" width="27" height="12" fill="#39558c"/>
<rect x="1356" y="344" width="27" height="12" fill="#375a8c"/>
<rect x="1356" y="356" width="27" height="12" fill="#32648e"/>
<rect x="1356" y="368" width="27" height="12" fill="#2e6d8e"/>
<rect x="1356" y="380" width="27" height="12" fill="#2b758e"/>
<rect x="1356" y="392" width="27" height="13" fill="#277e8e"/>
<rect x="1356" y="405" width="27" height="12" fill="#25858e"/>
<rect x="1356" y="417" width="27" height="12" fill="#218e8d"/>
<rect x="1356" y="429" width="27" height="12" fill="#20938c"/>
<rect x="1356" y="441" width="27" height="12" fill="#1f998a"/>
<rect x="1356" y="453" width="27" height="12" fill="#1f9f88"/>
<rect x="1356" y="465" width="27" height="12" fill="#21a585"/>
<rect x="1356" y="477" width="27" height="12" fill="#25ac82"/>
<rect x="1356" y="489" width="27" height="12" fill="#2eb37c"/>
<rect x="1356" y="501" width="27" height="12" fill="#32b67a"/>
<rect x="1356" y="513" width="27" height="12" fill="#38b977"/>
<rect x="1356" y="525" width="27" height="12" fill="#3fbc73"/>
<rect x="1356" y="537" width="27" height="13" fill="#50c46a"/>
<rect x="1356" y="550" width="27" height="12" fill="#63cb5f"/>
<rect x="1356" y="562" width="27" height="12" fill="#6ccd5a"/>
<rect x="1356" y="574" width="27" height="48" fill="#6ece58"/>
<rect x="1356" y="622" width="27" height="12" fill="#6ccd5a"/>
<rect x="1356" y="634" width="27" height="12" fill="#50c46a"/>
<rect x="1356" y="646" width="27" height="12" fill="#25ac82"/>
<rect x="1356" y="658" width="27" height="12" fill="#1f968b"/>
<rect x="1356" y="670" width="27" height="12" fill="#2e6f8e"/>
<rect x="1356" y="682" width="27" height="13" fill="#46307e"/>
<rect x="1356" y="755" width="27" height="6" fill="#ffffff"/>
<rect x="1383" y="247" width="27" height="13" fill="#450457"/>
<rect x="1383" y="260" width="27" height="12" fill="#46085c"/>
<rect x="1383" y="272" width="27" height="12" fill="#470d60"/>
<rect x="1383" y="284" width="27" height="12" fill="#471365"/>
<rect x="1383" y="296" width="27" height="12" fill="#48186a"/>
<rect x="1383" y="308" width="27" height="12" fill="#481d6f"/>
<rect x="1383" y="320" width="27" height="12" fill="#482374"/>
<rect x="1383" y="332" width="27" height="12" fill="#482979"/>
<rect x="1383" y="344" width="27" height="12" fill="#472e7c"/>
<rect x="1383" y="356" width="27" height="12" fill="#443983"/>
<rect x="1383" y="368" width="27" height="12" fill="#414487"/>
<rect x="1383" y="380" width="27" height="12" fill="#3d4e8a"/>
<rect x="1383" y="392" width="27" height="13" fill="#38588c"/>
<rect x="1383" y="405" width="27" height="12" fill="#34618d"/>
<rect x="1383" y="417" width="27" height="12" fill="#306a8e"/>
<rect x="1383" y="429" width="27" height="12" fill="#2c718e"/>
<rect x="1383" y="441" width="27" height="12" fill="#297a8e"/>
<rect x="1383" y="453" width="27" height="12" fill="#26828e"/>
<rect x="1383" y="465" width="27" height="12" fill="#228b8d"/>
<rect x="1383" y="477" width="27" height="12" fill="#20938c"/>
<rect x="1383" y="489" width="27" height="12" fill="#1e9c89"/>
<rect x="1383" y="501" width="27" height="12" fill="#1fa287"/>
<rect x="1383" y="513" width="27" height="12" fill="#22a884"/>
<rect x="1383" y="525" width="27" height="12" fill="#28ae80"/>
<rect x="1383" y="537" width="27" height="13" fill="#3bbb75"/>
<rect x="1383" y="550" width="27" height="12" fill="#56c667"/>
<rect x="1383" y="562" width="27" height="12" fill="#5ac864"/>
<rect x="1383" y="574" width="27" height="60" fill="#5ec962"/>
<rect x="1383" y="634" width="27" height="12" fill="#4ec36b"/>
<rect x="1383" y="646" width="27" height="12" fill="#25ac82"/>
<rect x="1383" y="658" width="27" height="12" fill="#1f9a8a"/>
<rect x="1383" y="670" width="27" height="12" fill="#2c728e"/>
<rect x="1383" y="682" width="27" height="13" fill="#453581"/>
<rect x="1383" y="755" width="27" height="6" fill="#ffffff"/>
<rect x="1410" y="356" width="26" height="12" fill="#46085c"/>
<rect x="1410" y="368" width="26" height="12" fill="#471164"/>
<rect x="1410" y="380" width="26" height="12" fill="#481f70"/>
<rect x="1410" y="392" width="26" height="13" fill="#472c7a"/>
<rect x="1410" y="405" width="26" height="12" fill="#453882"/>
<rect x="1410" y="417" width="26" height="12" fill="#414487"/>
<rect x="1410" y="429" width="26" height="12" fill="#3c508b"/>
<rect x="1410" y="441" width="26" height="12" fill="#365c8d"/>
<rect x="1410" y="453" width="26" height="12" fill="#31678e"/>
<rect x="1410" y="465" width="26" height="12" fill="#2c718e"/>
<rect x="1410" y="477" width="26" height="12" fill="#297b8e"/>
<rect x="1410" y="489" width="26" height="12" fill="#25858e"/>
<rect x="1410" y="501" width="26" height="12" fill="#218e8d"/>
<rect x="1410" y="513" width="26" height="12" fill="#1f968b"/>
<rect x="1410" y="525" width="26" height="12" fill="#1f9f88"/>
<rect x="1410" y="537" width="26" height="13" fill="#25ac82"/>
<rect x="1410" y="550" width="26" height="12" fill="#40bd72"/>
<rect x="1410" y="562" width="26" height="12" fill="#4cc26c"/>
<rect x="1410" y="574" width="26" height="12" fill="#4ec36b"/>
<rect x="1410" y="586" width="26" height="48" fill="#50c46a"/>
<rect x="1410" y="634" width="26" height="12" fill="#44bf70"/>
<rect x="1410" y="646" width="26" height="12" fill="#25ac82"/>
<rect x="1410" y="658" width="26" height="12" fill="#1e9b8a"/>
<rect x="1410" y="670" width="26" height="12" fill="#2b748e"/>
<rect x="1410" y="682" width="26" height="13" fill="#453581"/>
<rect x="1410" y="755" width="26" height="6" fill="#ffffff"/>
<rect x="1436" y="417" width="27" height="12" fill="#481769"/>
<rect x="1436" y="429" width="27" height="12" fill="#482374"/>
<rect x="1436" y="441" width="27" height="12" fill="#472f7d"/>
<rect x="1436" y="453" width="27" height="12" fill="#443a83"/>
<rect x="1436" y="465" width="27" height="12" fill="#3f4889"/>
<rect x="1436" y="477" width="27" height="12" fill="#39568c"/>
<rect x="1436" y="489" width="27" height="12" fill="#33638d"/>
<rect x="1436" y="501" width="27" height="12" fill="#2e6e8e"/>
<rect x="1436" y="513" width="27" height="12" fill="#2a778e"/>
<rect x="1436" y="525" width="27" height="12" fill="#26828e"/>
<rect x="1436" y="537" width="27" height="13" fill="#1f958b"/>
<rect x="1436" y="550" width="27" height="12" fill="#2cb17e"/>
<rect x="1436" y="562" width="27" height="12" fill="#37b878"/>
<rect x="1436" y="574" width="27" height="12" fill="#38b977"/>
<rect x="1436" y="586" width="27" height="48" fill="#3bbb75"/>
<rect x="1436" y="634" width="27" height="12" fill="#38b977"/>
<rect x="1436" y="646" width="27" height="12" fill="#25ac82"/>
<rect x="1436" y="658" width="27" height="12" fill="#1e9c89"/>
<rect x="1436" y="670" width="27" height="12" fill="#2b758e"/>
<rect x="1436" y="682" width="27" height="13" fill="#433e85"/>
<rect x="1436" y="755" width="27" height="6" fill="#ffffff"/>
<rect x="1463" y="453" width="27" height="12" fill="#440256"/>
<rect x="1463" y="465" width="27" height="12" fill="#481668"/>
<rect x="1463" y="477" width="27" height="12" fill="#482677"/>
<rect x="1463" y="489" width="27" height="12" fill="#453781"/>
<rect x="1463" y="501" width="27" height="12" fill="#3f4889"/>
<rect x="1463" y="513" width="27" height="12" fill="#38588c"/>
<rect x="1463" y="525" width="27" height="12" fill="#31678e"/>
<rect x="1463" y="537" width="27" height="13" fill="#2a788e"/>
<rect x="1463" y="550" width="27" height="12" fill="#1e9c89"/>
<rect x="1463" y="562" width="27" height="12" fill="#22a884"/>
<rect x="1463" y="574" width="27" height="12" fill="#25ac82"/>
<rect x="1463" y="586" width="27" height="60" fill="#26ad81"/>
<rect x="1463" y="646" width="27" height="12" fill="#25ab82"/>
<rect x="1463" y="658" width="27" height="12" fill="#1f9f88"/>
<rect x="1463" y="670" width="27" height="12" fill="#2b758e"/>
<rect x="1463" y="682" width="27" height="13" fill="#423f85"/>
<rect x="1463" y="755" width="27" height="6" fill="#ffffff"/>
<rect x="1490" y="489" width="27" height="12" fill="#460a5d"/>
<rect x="1490" y="501" width="27" height="12" fill="#482071"/>
<rect x="1490" y="513" width="27" height="12" fill="#46337f"/>
<rect x="1490" y="525" width="27" height="12" fill="#404688"/>
<rect x="1490" y="537" width="27" height="13" fill="#375a8c"/>
<rect x="1490" y="550" width="27" height="12" fill="#287c8e"/>
<rect x="1490" y="562" width="27" height="12" fill="#21918c"/>
<rect x="1490" y="574" width="27" height="12" fill="#20938c"/>
<rect x="1490" y="586" width="27" height="84" fill="#1f958b"/>
<rect x="1490" y="670" width="27" height="12" fill="#2d718e"/>
<rect x="1490" y="682" width="27" height="13" fill="#423f85"/>
<rect x="1490" y="755" width="27" height="6" fill="#ffffff"/>
<rect x="1517" y="525" width="27" height="12" fill="#481a6c"/>
<rect x="1517" y="537" width="27" height="13" fill="#463480"/>
<rect x="1517" y="550" width="27" height="12" fill="#365d8d"/>
<rect x="1517" y="562" width="27" height="12" fill="#2e6f8e"/>
<rect x="1517" y="574" width="27" height="12" fill="#2b748e"/>
<rect x="1517" y="586" width="27" height="84" fill="#297a8e"/>
<rect x="1517" y="670" width="27" height="12" fill="#31668e"/>
<rect x="1517" y="682" width="27" height="13" fill="#46307e"/>
<rect x="1517" y="755" width="27" height="6" fill="#ffffff"/>
<rect x="1544" y="550" width="27" height="12" fill="#482576"/>
<rect x="1544" y="562" width="27" height="12" fill="#424086"/>
<rect x="1544" y="574" width="27" height="12" fill="#3e4c8a"/>
<rect x="1544" y="586" width="27" height="84" fill="#38588c"/>
<rect x="1544" y="670" width="27" height="12" fill="#414487"/>
<rect x="1544" y="682" width="27" height="13" fill="#481a6c"/>
<rect x="1544" y="755" width="27" height="6" fill="#ffffff"/>
<rect x="1571" y="574" width="26" height="12" fill="#481769"/>
<rect x="1571" y="586" width="26" height="84" fill="#482173"/>
<rect x="1571" y="670" width="26" height="12" fill="#481a6c"/>
<rect x="1571" y="755" width="26" height="6" fill="#ffffff"/>
<rect x="1597" y="755" width="27" height="6" fill="#ffffff"/>
<rect x="1624" y="755" width="24" height="6" fill="#ffffff"/>
</g>
<rect x="1029.00" y="35.00" width="2.00" height="727.00" fill="#000"/>
<rect x="1647.00" y="35.00" width="2.00" height="727.00" fill="#000"/>
<rect x="1029.00" y="35.00" width="620.00" height="2.00" fill="#000"/>
<rect x="1029.00" y="760.00" width="620.00" height="2.00" fill="#000"/>
<rect x="1021.90" y="760.00" width="7.20" height="2.00" fill="#000"/>
<text x="1015.30" y="771.00" font-size="25.7" text-anchor="end">40</text>
<rect x="1021.90" y="639.00" width="7.20" height="2.00" fill="#000"/>
<text x="1015.30" y="650.17" font-size="25.7" text-anchor="end">50</text>
<rect x="1021.90" y="518.00" width="7.20" height="2.00" fill="#000"/>
<text x="1015.30" y="529.33" font-size="25.7" text-anchor="end">60</text>
<rect x="1021.90" y="397.00" width="7.20" height="2.00" fill="#000"/>
<text x="1015.30" y="408.50" font-size="25.7" text-anchor="end">70</text>
<rect x="1021.90" y="277.00" width="7.20" height="2.00" fill="#000"/>
<text x="1015.30" y="287.67" font-size="25.7" text-anchor="end">80</text>
<rect x="1021.90" y="156.00" width="7.20" height="2.00" fill="#000"/>
<text x="1015.30" y="166.83" font-size="25.7" text-anchor="end">90</text>
<rect x="1021.90" y="35.00" width="7.20" height="2.00" fill="#000"/>
<text x="1015.30" y="46.00" font-size="25.7" text-anchor="end">100</text>
<rect x="1251.00" y="762.00" width="2.00" height="7.80" fill="#000"/>
<text x="1229.30" y="794.90" font-size="25.6">10<tspan dy="-9.5" font-size="18.6">0</tspan></text>
<rect x="1519.00" y="762.00" width="2.00" height="7.80" fill="#000"/>
<text x="1497.30" y="794.90" font-size="25.6">10<tspan dy="-9.5" font-size="18.6">1</tspan></text>
<rect x="1064.33" y="762.00" width="1.50" height="3.90" fill="#000"/>
<rect x="1111.52" y="762.00" width="1.50" height="3.90" fill="#000"/>
<rect x="1145.00" y="762.00" width="1.50" height="3.90" fill="#000"/>
<rect x="1170.97" y="762.00" width="1.50" height="3.90" fill="#000"/>
<rect x="1192.19" y="762.00" width="1.50" height="3.90" fill="#000"/>
<rect x="1210.14" y="762.00" width="1.50" height="3.90" fill="#000"/>
<rect x="1225.68" y="762.00" width="1.50" height="3.90" fill="#000"/>
<rect x="1239.39" y="762.00" width="1.50" height="3.90" fill="#000"/>
<rect x="1332.33" y="762.00" width="1.50" height="3.90" fill="#000"/>
<rect x="1379.52" y="762.00" width="1.50" height="3.90" fill="#000"/>
<rect x="1413.00" y="762.00" width="1.50" height="3.90" fill="#000"/>
<rect x="1438.97" y="762.00" width="1.50" height="3.90" fill="#000"/>
<rect x="1460.19" y="762.00" width="1.50" height="3.90" fill="#000"/>
<rect x="1478.14" y="762.00" width="1.50" height="3.90" fill="#000"/>
<rect x="1493.68" y="762.00" width="1.50" height="3.90" fill="#000"/>
<rect x="1507.39" y="762.00" width="1.50" height="3.90" fill="#000"/>
<rect x="1600.33" y="762.00" width="1.50" height="3.90" fill="#000"/>
<rect x="1647.25" y="762.00" width="1.50" height="3.90" fill="#000"/>
<text x="1340.00" y="22.6" font-size="30.4" text-anchor="middle">(b) Case 1</text>
<text x="1339.30" y="833.2" font-size="30.6" text-anchor="middle">Radius [<tspan font-style="italic">μ</tspan>m]</text>
<text transform="translate(951.00,397.70) rotate(-90)" font-size="30.5" text-anchor="middle">Altitude [km]</text>
<defs><linearGradient id="vg1" x1="0" y1="0" x2="0" y2="1"><stop offset="0.0000" stop-color="#fde725"/><stop offset="0.0156" stop-color="#f6e620"/><stop offset="0.0312" stop-color="#ece51b"/><stop offset="0.0469" stop-color="#e2e418"/><stop offset="0.0625" stop-color="#d8e219"/><stop offset="0.0781" stop-color="#cde11d"/><stop offset="0.0938" stop-color="#c2df23"/><stop offset="0.1094" stop-color="#b8de29"/><stop offset="0.1250" stop-color="#addc30"/><stop offset="0.1406" stop-color="#a2da37"/><stop offset="0.1562" stop-color="#98d83e"/><stop offset="0.1719" stop-color="#8ed645"/><stop offset="0.1875" stop-color="#84d44b"/><stop offset="0.2031" stop-color="#7ad151"/><stop offset="0.2188" stop-color="#70cf57"/><stop offset="0.2344" stop-color="#67cc5c"/><stop offset="0.2500" stop-color="#5ec962"/><stop offset="0.2656" stop-color="#56c667"/><stop offset="0.2812" stop-color="#4ec36b"/><stop offset="0.2969" stop-color="#46c06f"/><stop offset="0.3125" stop-color="#3fbc73"/><stop offset="0.3281" stop-color="#38b977"/><stop offset="0.3438" stop-color="#32b67a"/><stop offset="0.3594" stop-color="#2db27d"/><stop offset="0.3750" stop-color="#28ae80"/><stop offset="0.3906" stop-color="#25ab82"/><stop offset="0.4062" stop-color="#22a785"/><stop offset="0.4219" stop-color="#20a386"/><stop offset="0.4375" stop-color="#1fa088"/><stop offset="0.4531" stop-color="#1e9c89"/><stop offset="0.4688" stop-color="#1f988b"/><stop offset="0.4844" stop-color="#1f948c"/><stop offset="0.5000" stop-color="#21918c"/><stop offset="0.5156" stop-color="#228d8d"/><stop offset="0.5312" stop-color="#23898e"/><stop offset="0.5469" stop-color="#25858e"/><stop offset="0.5625" stop-color="#26828e"/><stop offset="0.5781" stop-color="#277e8e"/><stop offset="0.5938" stop-color="#297a8e"/><stop offset="0.6094" stop-color="#2a768e"/><stop offset="0.6250" stop-color="#2c728e"/><stop offset="0.6406" stop-color="#2e6f8e"/><stop offset="0.6562" stop-color="#2f6b8e"/><stop offset="0.6719" stop-color="#31678e"/><stop offset="0.6875" stop-color="#33638d"/><stop offset="0.7031" stop-color="#355f8d"/><stop offset="0.7188" stop-color="#375b8d"/><stop offset="0.7344" stop-color="#39568c"/><stop offset="0.7500" stop-color="#3b528b"/><stop offset="0.7656" stop-color="#3d4e8a"/><stop offset="0.7812" stop-color="#3e4989"/><stop offset="0.7969" stop-color="#404588"/><stop offset="0.8125" stop-color="#424086"/><stop offset="0.8281" stop-color="#443b84"/><stop offset="0.8438" stop-color="#453781"/><stop offset="0.8594" stop-color="#46327e"/><stop offset="0.8750" stop-color="#472d7b"/><stop offset="0.8906" stop-color="#482878"/><stop offset="0.9062" stop-color="#482374"/><stop offset="0.9219" stop-color="#481d6f"/><stop offset="0.9375" stop-color="#48186a"/><stop offset="0.9531" stop-color="#471365"/><stop offset="0.9688" stop-color="#470d60"/><stop offset="0.9844" stop-color="#46075a"/><stop offset="1.0000" stop-color="#440154"/></linearGradient></defs>
<rect x="1687.0" y="36.0" width="37.0" height="725.0" fill="url(#vg1)"/>
<rect x="1687.00" y="35.00" width="1.00" height="727.00" fill="#000"/>
<rect x="1723.00" y="35.00" width="2.00" height="727.00" fill="#000"/>
<rect x="1687.00" y="35.00" width="38.00" height="2.00" fill="#000"/>
<rect x="1687.00" y="760.00" width="38.00" height="2.00" fill="#000"/>
<rect x="1725.00" y="35.00" width="7.00" height="2.00" fill="#000"/>
<text x="1739.30" y="45.00" font-size="21.6">10<tspan dy="-8.0" font-size="15.4">4</tspan></text>
<rect x="1725.00" y="180.00" width="7.00" height="2.00" fill="#000"/>
<text x="1739.30" y="188.60" font-size="21.6">10<tspan dy="-8.0" font-size="15.4">2</tspan></text>
<rect x="1725.00" y="325.00" width="7.00" height="2.00" fill="#000"/>
<text x="1739.30" y="333.40" font-size="21.6">10<tspan dy="-8.0" font-size="15.4">0</tspan></text>
<rect x="1725.00" y="470.00" width="7.00" height="2.00" fill="#000"/>
<text x="1739.30" y="478.10" font-size="21.6">10<tspan dy="-8.0" font-size="15.4">−2</tspan></text>
<rect x="1725.00" y="615.00" width="7.00" height="2.00" fill="#000"/>
<text x="1739.30" y="623.10" font-size="21.6">10<tspan dy="-8.0" font-size="15.4">−4</tspan></text>
<rect x="1725.00" y="760.00" width="7.00" height="2.00" fill="#000"/>
<text x="1739.30" y="768.10" font-size="21.6">10<tspan dy="-8.0" font-size="15.4">−6</tspan></text>
<text transform="translate(1816.00,398.50) rotate(-90)" font-size="26.2" text-anchor="middle">dN/d(log<tspan font-style="italic">r</tspan>) [cm<tspan dy="-9.6" font-size="18.1">−3</tspan><tspan dy="9.6">]</tspan></text>
</g>
</svg></body></html>
